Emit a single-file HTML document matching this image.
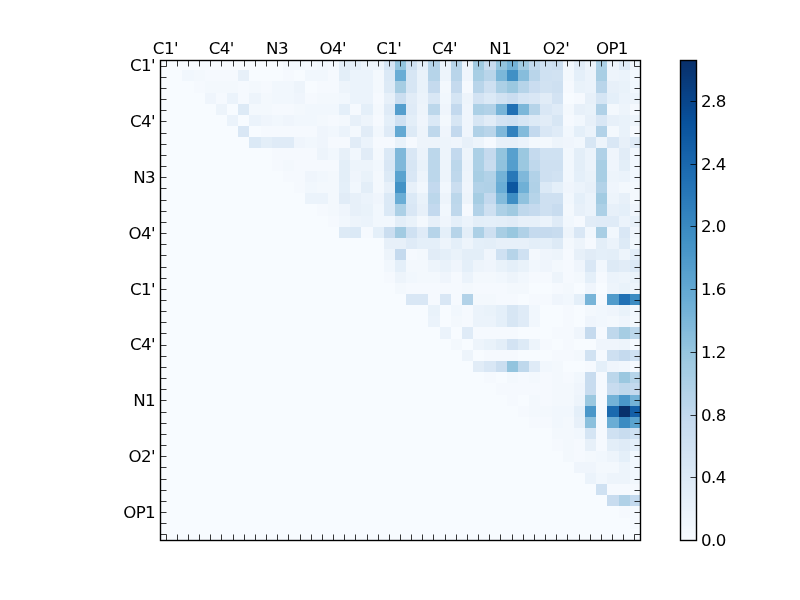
<!DOCTYPE html>
<html><head><meta charset="utf-8"><title>heatmap</title>
<style>
html,body{margin:0;padding:0;background:#fff;}
body{width:800px;height:600px;overflow:hidden;}
svg{display:block;}
text{font-family:"DejaVu Sans","Liberation Sans",sans-serif;font-size:16.67px;fill:#000;letter-spacing:-0.6px;}
</style></head><body>
<svg width="800" height="600" viewBox="0 0 800 600">
<rect width="800" height="600" fill="#fff"/>
<g shape-rendering="crispEdges">
<rect x="160" y="60" width="481" height="481" fill="#f7fbff"/>
<rect x="283" y="60" width="22" height="10" fill="#f3f8fd"/>
<rect x="305" y="60" width="12" height="10" fill="#f5f9fe"/>
<rect x="317" y="60" width="11" height="10" fill="#f3f8fd"/>
<rect x="328" y="60" width="11" height="10" fill="#f5f9fe"/>
<rect x="339" y="60" width="11" height="10" fill="#e3eef8"/>
<rect x="350" y="60" width="11" height="10" fill="#e4eff9"/>
<rect x="361" y="60" width="23" height="10" fill="#edf4fb"/>
<rect x="384" y="60" width="11" height="10" fill="#d5e5f4"/>
<rect x="395" y="60" width="11" height="10" fill="#93c4de"/>
<rect x="406" y="60" width="11" height="10" fill="#cfe1f2"/>
<rect x="417" y="60" width="11" height="10" fill="#e4eff9"/>
<rect x="428" y="60" width="12" height="10" fill="#b6d4e9"/>
<rect x="440" y="60" width="11" height="10" fill="#ebf3fb"/>
<rect x="451" y="60" width="11" height="10" fill="#b6d4e9"/>
<rect x="462" y="60" width="11" height="10" fill="#edf4fb"/>
<rect x="473" y="60" width="11" height="10" fill="#a0cae1"/>
<rect x="484" y="60" width="12" height="10" fill="#c8dcef"/>
<rect x="496" y="60" width="11" height="10" fill="#93c4de"/>
<rect x="507" y="60" width="11" height="10" fill="#73b2d7"/>
<rect x="518" y="60" width="11" height="10" fill="#a2cbe2"/>
<rect x="529" y="60" width="11" height="10" fill="#c3d9ee"/>
<rect x="540" y="60" width="12" height="10" fill="#cfe1f2"/>
<rect x="552" y="60" width="11" height="10" fill="#cbdef0"/>
<rect x="563" y="60" width="11" height="10" fill="#f1f7fd"/>
<rect x="574" y="60" width="11" height="10" fill="#e1ecf7"/>
<rect x="585" y="60" width="11" height="10" fill="#edf4fb"/>
<rect x="596" y="60" width="11" height="10" fill="#acd0e6"/>
<rect x="607" y="60" width="12" height="10" fill="#eff5fc"/>
<rect x="619" y="60" width="11" height="10" fill="#dfebf7"/>
<rect x="630" y="60" width="11" height="10" fill="#eff5fc"/>
<rect x="182" y="70" width="12" height="11" fill="#f1f7fd"/>
<rect x="194" y="70" width="11" height="11" fill="#f3f8fd"/>
<rect x="205" y="70" width="33" height="11" fill="#f5f9fe"/>
<rect x="238" y="70" width="11" height="11" fill="#e7f0f9"/>
<rect x="283" y="70" width="11" height="11" fill="#f5f9fe"/>
<rect x="305" y="70" width="23" height="11" fill="#f1f7fd"/>
<rect x="328" y="70" width="11" height="11" fill="#f5f9fe"/>
<rect x="339" y="70" width="11" height="11" fill="#e3eef8"/>
<rect x="350" y="70" width="23" height="11" fill="#ebf3fb"/>
<rect x="373" y="70" width="11" height="11" fill="#f3f8fd"/>
<rect x="384" y="70" width="11" height="11" fill="#dbe9f6"/>
<rect x="395" y="70" width="11" height="11" fill="#6aadd5"/>
<rect x="406" y="70" width="11" height="11" fill="#d7e6f4"/>
<rect x="417" y="70" width="11" height="11" fill="#e9f2fa"/>
<rect x="428" y="70" width="12" height="11" fill="#b6d4e9"/>
<rect x="440" y="70" width="11" height="11" fill="#edf4fb"/>
<rect x="451" y="70" width="11" height="11" fill="#b9d5ea"/>
<rect x="462" y="70" width="11" height="11" fill="#eff5fc"/>
<rect x="473" y="70" width="11" height="11" fill="#a8cee4"/>
<rect x="484" y="70" width="12" height="11" fill="#b9d5ea"/>
<rect x="496" y="70" width="11" height="11" fill="#7bb7d9"/>
<rect x="507" y="70" width="11" height="11" fill="#4090c5"/>
<rect x="518" y="70" width="11" height="11" fill="#87bddc"/>
<rect x="529" y="70" width="11" height="11" fill="#b9d5ea"/>
<rect x="540" y="70" width="12" height="11" fill="#cfe1f2"/>
<rect x="552" y="70" width="11" height="11" fill="#d1e2f2"/>
<rect x="563" y="70" width="11" height="11" fill="#f3f8fd"/>
<rect x="574" y="70" width="11" height="11" fill="#e4eff9"/>
<rect x="585" y="70" width="11" height="11" fill="#ebf3fb"/>
<rect x="596" y="70" width="11" height="11" fill="#a8cee4"/>
<rect x="607" y="70" width="12" height="11" fill="#edf4fb"/>
<rect x="619" y="70" width="11" height="11" fill="#ebf3fb"/>
<rect x="630" y="70" width="11" height="11" fill="#f3f8fd"/>
<rect x="194" y="81" width="11" height="12" fill="#f5f9fe"/>
<rect x="205" y="81" width="33" height="12" fill="#f3f8fd"/>
<rect x="238" y="81" width="11" height="12" fill="#f5f9fe"/>
<rect x="249" y="81" width="12" height="12" fill="#f3f8fd"/>
<rect x="261" y="81" width="11" height="12" fill="#f5f9fe"/>
<rect x="272" y="81" width="22" height="12" fill="#f1f7fd"/>
<rect x="294" y="81" width="11" height="12" fill="#edf4fb"/>
<rect x="317" y="81" width="22" height="12" fill="#f5f9fe"/>
<rect x="339" y="81" width="11" height="12" fill="#edf4fb"/>
<rect x="350" y="81" width="23" height="12" fill="#ebf3fb"/>
<rect x="373" y="81" width="11" height="12" fill="#f3f8fd"/>
<rect x="384" y="81" width="11" height="12" fill="#ddeaf6"/>
<rect x="395" y="81" width="11" height="12" fill="#a6cde3"/>
<rect x="406" y="81" width="11" height="12" fill="#d7e6f4"/>
<rect x="417" y="81" width="11" height="12" fill="#e9f2fa"/>
<rect x="428" y="81" width="12" height="12" fill="#c5daee"/>
<rect x="440" y="81" width="11" height="12" fill="#f3f8fd"/>
<rect x="451" y="81" width="11" height="12" fill="#c5daee"/>
<rect x="462" y="81" width="11" height="12" fill="#f5f9fe"/>
<rect x="473" y="81" width="11" height="12" fill="#b9d5ea"/>
<rect x="484" y="81" width="12" height="12" fill="#cee0f1"/>
<rect x="496" y="81" width="11" height="12" fill="#acd0e6"/>
<rect x="507" y="81" width="11" height="12" fill="#9bc8e0"/>
<rect x="518" y="81" width="11" height="12" fill="#b6d4e9"/>
<rect x="529" y="81" width="11" height="12" fill="#caddf0"/>
<rect x="540" y="81" width="12" height="12" fill="#d1e2f2"/>
<rect x="552" y="81" width="11" height="12" fill="#cee0f1"/>
<rect x="563" y="81" width="11" height="12" fill="#f5f9fe"/>
<rect x="574" y="81" width="11" height="12" fill="#e9f2fa"/>
<rect x="585" y="81" width="11" height="12" fill="#ebf3fb"/>
<rect x="596" y="81" width="11" height="12" fill="#b9d5ea"/>
<rect x="607" y="81" width="12" height="12" fill="#e7f0f9"/>
<rect x="619" y="81" width="11" height="12" fill="#e9f2fa"/>
<rect x="630" y="81" width="11" height="12" fill="#f1f7fd"/>
<rect x="205" y="93" width="11" height="11" fill="#eff5fc"/>
<rect x="216" y="93" width="11" height="11" fill="#f5f9fe"/>
<rect x="227" y="93" width="11" height="11" fill="#ebf3fb"/>
<rect x="238" y="93" width="11" height="11" fill="#f5f9fe"/>
<rect x="249" y="93" width="12" height="11" fill="#edf4fb"/>
<rect x="261" y="93" width="11" height="11" fill="#f3f8fd"/>
<rect x="272" y="93" width="22" height="11" fill="#f1f7fd"/>
<rect x="294" y="93" width="11" height="11" fill="#eff5fc"/>
<rect x="305" y="93" width="12" height="11" fill="#f5f9fe"/>
<rect x="317" y="93" width="22" height="11" fill="#f3f8fd"/>
<rect x="339" y="93" width="11" height="11" fill="#f1f7fd"/>
<rect x="350" y="93" width="23" height="11" fill="#ebf3fb"/>
<rect x="373" y="93" width="11" height="11" fill="#f5f9fe"/>
<rect x="384" y="93" width="11" height="11" fill="#e7f0f9"/>
<rect x="395" y="93" width="11" height="11" fill="#cbdef0"/>
<rect x="406" y="93" width="11" height="11" fill="#e1ecf7"/>
<rect x="417" y="93" width="11" height="11" fill="#ebf3fb"/>
<rect x="428" y="93" width="12" height="11" fill="#d9e7f5"/>
<rect x="440" y="93" width="11" height="11" fill="#f1f7fd"/>
<rect x="451" y="93" width="11" height="11" fill="#d5e5f4"/>
<rect x="462" y="93" width="11" height="11" fill="#edf4fb"/>
<rect x="473" y="93" width="11" height="11" fill="#d3e3f3"/>
<rect x="484" y="93" width="12" height="11" fill="#dbe9f6"/>
<rect x="496" y="93" width="11" height="11" fill="#d1e2f2"/>
<rect x="507" y="93" width="11" height="11" fill="#caddf0"/>
<rect x="518" y="93" width="11" height="11" fill="#d5e5f4"/>
<rect x="529" y="93" width="11" height="11" fill="#d9e7f5"/>
<rect x="540" y="93" width="12" height="11" fill="#e1ecf7"/>
<rect x="552" y="93" width="11" height="11" fill="#d3e3f3"/>
<rect x="574" y="93" width="11" height="11" fill="#f5f9fe"/>
<rect x="585" y="93" width="11" height="11" fill="#e7f0f9"/>
<rect x="596" y="93" width="11" height="11" fill="#d5e5f4"/>
<rect x="607" y="93" width="12" height="11" fill="#e4eff9"/>
<rect x="619" y="93" width="11" height="11" fill="#ebf3fb"/>
<rect x="630" y="93" width="11" height="11" fill="#edf4fb"/>
<rect x="216" y="104" width="11" height="11" fill="#edf4fb"/>
<rect x="238" y="104" width="11" height="11" fill="#ddeaf6"/>
<rect x="249" y="104" width="23" height="11" fill="#f3f8fd"/>
<rect x="272" y="104" width="22" height="11" fill="#f5f9fe"/>
<rect x="294" y="104" width="11" height="11" fill="#f3f8fd"/>
<rect x="305" y="104" width="34" height="11" fill="#f1f7fd"/>
<rect x="339" y="104" width="11" height="11" fill="#e4eff9"/>
<rect x="350" y="104" width="11" height="11" fill="#f5f9fe"/>
<rect x="361" y="104" width="12" height="11" fill="#e4eff9"/>
<rect x="373" y="104" width="11" height="11" fill="#f3f8fd"/>
<rect x="384" y="104" width="11" height="11" fill="#dfebf7"/>
<rect x="395" y="104" width="11" height="11" fill="#549ecd"/>
<rect x="406" y="104" width="11" height="11" fill="#dfebf7"/>
<rect x="417" y="104" width="11" height="11" fill="#edf4fb"/>
<rect x="428" y="104" width="12" height="11" fill="#bcd7eb"/>
<rect x="440" y="104" width="11" height="11" fill="#eff5fc"/>
<rect x="451" y="104" width="11" height="11" fill="#c3d9ee"/>
<rect x="462" y="104" width="11" height="11" fill="#eff5fc"/>
<rect x="473" y="104" width="11" height="11" fill="#acd0e6"/>
<rect x="484" y="104" width="12" height="11" fill="#b2d2e8"/>
<rect x="496" y="104" width="11" height="11" fill="#77b4d8"/>
<rect x="507" y="104" width="11" height="11" fill="#2070b4"/>
<rect x="518" y="104" width="11" height="11" fill="#7bb7d9"/>
<rect x="529" y="104" width="11" height="11" fill="#b6d4e9"/>
<rect x="540" y="104" width="12" height="11" fill="#d9e7f5"/>
<rect x="552" y="104" width="11" height="11" fill="#dfebf7"/>
<rect x="563" y="104" width="11" height="11" fill="#f3f8fd"/>
<rect x="574" y="104" width="11" height="11" fill="#e7f0f9"/>
<rect x="585" y="104" width="11" height="11" fill="#e9f2fa"/>
<rect x="596" y="104" width="11" height="11" fill="#b0d1e7"/>
<rect x="607" y="104" width="12" height="11" fill="#f3f8fd"/>
<rect x="619" y="104" width="11" height="11" fill="#edf4fb"/>
<rect x="630" y="104" width="11" height="11" fill="#f5f9fe"/>
<rect x="227" y="115" width="11" height="11" fill="#ebf3fb"/>
<rect x="249" y="115" width="12" height="11" fill="#ebf3fb"/>
<rect x="261" y="115" width="11" height="11" fill="#eff5fc"/>
<rect x="272" y="115" width="11" height="11" fill="#f1f7fd"/>
<rect x="283" y="115" width="11" height="11" fill="#eff5fc"/>
<rect x="294" y="115" width="23" height="11" fill="#f1f7fd"/>
<rect x="317" y="115" width="11" height="11" fill="#f3f8fd"/>
<rect x="328" y="115" width="11" height="11" fill="#f5f9fe"/>
<rect x="339" y="115" width="11" height="11" fill="#f3f8fd"/>
<rect x="350" y="115" width="11" height="11" fill="#e7f0f9"/>
<rect x="361" y="115" width="12" height="11" fill="#edf4fb"/>
<rect x="373" y="115" width="11" height="11" fill="#f5f9fe"/>
<rect x="384" y="115" width="11" height="11" fill="#e4eff9"/>
<rect x="395" y="115" width="11" height="11" fill="#cfe1f2"/>
<rect x="406" y="115" width="11" height="11" fill="#e3eef8"/>
<rect x="417" y="115" width="11" height="11" fill="#eff5fc"/>
<rect x="428" y="115" width="12" height="11" fill="#dbe9f6"/>
<rect x="440" y="115" width="11" height="11" fill="#f3f8fd"/>
<rect x="451" y="115" width="11" height="11" fill="#d7e6f4"/>
<rect x="462" y="115" width="11" height="11" fill="#eff5fc"/>
<rect x="473" y="115" width="11" height="11" fill="#d7e6f4"/>
<rect x="484" y="115" width="12" height="11" fill="#e1ecf7"/>
<rect x="496" y="115" width="11" height="11" fill="#d3e3f3"/>
<rect x="507" y="115" width="11" height="11" fill="#cfe1f2"/>
<rect x="518" y="115" width="11" height="11" fill="#d7e6f4"/>
<rect x="529" y="115" width="11" height="11" fill="#ddeaf6"/>
<rect x="540" y="115" width="12" height="11" fill="#e1ecf7"/>
<rect x="552" y="115" width="11" height="11" fill="#d7e6f4"/>
<rect x="563" y="115" width="11" height="11" fill="#f5f9fe"/>
<rect x="574" y="115" width="11" height="11" fill="#f1f7fd"/>
<rect x="585" y="115" width="11" height="11" fill="#e7f0f9"/>
<rect x="596" y="115" width="11" height="11" fill="#d9e7f5"/>
<rect x="607" y="115" width="12" height="11" fill="#e7f0f9"/>
<rect x="619" y="115" width="11" height="11" fill="#e9f2fa"/>
<rect x="630" y="115" width="11" height="11" fill="#edf4fb"/>
<rect x="238" y="126" width="11" height="11" fill="#d9e7f5"/>
<rect x="261" y="126" width="56" height="11" fill="#f5f9fe"/>
<rect x="317" y="126" width="11" height="11" fill="#eff5fc"/>
<rect x="328" y="126" width="11" height="11" fill="#f1f7fd"/>
<rect x="339" y="126" width="11" height="11" fill="#ebf3fb"/>
<rect x="350" y="126" width="11" height="11" fill="#f3f8fd"/>
<rect x="361" y="126" width="12" height="11" fill="#e1ecf7"/>
<rect x="373" y="126" width="11" height="11" fill="#f1f7fd"/>
<rect x="384" y="126" width="11" height="11" fill="#dfebf7"/>
<rect x="395" y="126" width="11" height="11" fill="#63a9d3"/>
<rect x="406" y="126" width="11" height="11" fill="#ddeaf6"/>
<rect x="417" y="126" width="11" height="11" fill="#edf4fb"/>
<rect x="428" y="126" width="12" height="11" fill="#bfd8ec"/>
<rect x="440" y="126" width="11" height="11" fill="#eff5fc"/>
<rect x="451" y="126" width="11" height="11" fill="#c3d9ee"/>
<rect x="462" y="126" width="11" height="11" fill="#eff5fc"/>
<rect x="473" y="126" width="11" height="11" fill="#b0d1e7"/>
<rect x="484" y="126" width="12" height="11" fill="#b9d5ea"/>
<rect x="496" y="126" width="11" height="11" fill="#7fb8da"/>
<rect x="507" y="126" width="11" height="11" fill="#3282be"/>
<rect x="518" y="126" width="11" height="11" fill="#83bbdb"/>
<rect x="529" y="126" width="11" height="11" fill="#c3d9ee"/>
<rect x="540" y="126" width="12" height="11" fill="#d9e7f5"/>
<rect x="552" y="126" width="11" height="11" fill="#dfebf7"/>
<rect x="563" y="126" width="11" height="11" fill="#f1f7fd"/>
<rect x="574" y="126" width="11" height="11" fill="#e4eff9"/>
<rect x="585" y="126" width="11" height="11" fill="#ebf3fb"/>
<rect x="596" y="126" width="11" height="11" fill="#b2d2e8"/>
<rect x="607" y="126" width="12" height="11" fill="#f3f8fd"/>
<rect x="619" y="126" width="11" height="11" fill="#e9f2fa"/>
<rect x="630" y="126" width="11" height="11" fill="#f5f9fe"/>
<rect x="249" y="137" width="12" height="11" fill="#dbe9f6"/>
<rect x="261" y="137" width="11" height="11" fill="#e3eef8"/>
<rect x="272" y="137" width="22" height="11" fill="#dfebf7"/>
<rect x="294" y="137" width="11" height="11" fill="#eff5fc"/>
<rect x="305" y="137" width="12" height="11" fill="#f1f7fd"/>
<rect x="317" y="137" width="11" height="11" fill="#eff5fc"/>
<rect x="328" y="137" width="22" height="11" fill="#f5f9fe"/>
<rect x="350" y="137" width="11" height="11" fill="#e1ecf7"/>
<rect x="361" y="137" width="12" height="11" fill="#ebf3fb"/>
<rect x="373" y="137" width="22" height="11" fill="#f5f9fe"/>
<rect x="395" y="137" width="11" height="11" fill="#e9f2fa"/>
<rect x="406" y="137" width="11" height="11" fill="#f5f9fe"/>
<rect x="417" y="137" width="34" height="11" fill="#edf4fb"/>
<rect x="451" y="137" width="11" height="11" fill="#eff5fc"/>
<rect x="462" y="137" width="11" height="11" fill="#e7f0f9"/>
<rect x="473" y="137" width="11" height="11" fill="#edf4fb"/>
<rect x="484" y="137" width="12" height="11" fill="#f5f9fe"/>
<rect x="496" y="137" width="22" height="11" fill="#e7f0f9"/>
<rect x="518" y="137" width="11" height="11" fill="#ebf3fb"/>
<rect x="529" y="137" width="23" height="11" fill="#f3f8fd"/>
<rect x="552" y="137" width="11" height="11" fill="#edf4fb"/>
<rect x="563" y="137" width="11" height="11" fill="#eff5fc"/>
<rect x="574" y="137" width="11" height="11" fill="#f1f7fd"/>
<rect x="585" y="137" width="11" height="11" fill="#d7e6f4"/>
<rect x="596" y="137" width="11" height="11" fill="#edf4fb"/>
<rect x="607" y="137" width="12" height="11" fill="#d9e7f5"/>
<rect x="619" y="137" width="11" height="11" fill="#e7f0f9"/>
<rect x="630" y="137" width="11" height="11" fill="#dfebf7"/>
<rect x="272" y="148" width="45" height="12" fill="#f5f9fe"/>
<rect x="317" y="148" width="11" height="12" fill="#edf4fb"/>
<rect x="328" y="148" width="11" height="12" fill="#f1f7fd"/>
<rect x="339" y="148" width="11" height="12" fill="#e7f0f9"/>
<rect x="350" y="148" width="11" height="12" fill="#f1f7fd"/>
<rect x="361" y="148" width="12" height="12" fill="#e1ecf7"/>
<rect x="373" y="148" width="11" height="12" fill="#f3f8fd"/>
<rect x="384" y="148" width="11" height="12" fill="#dbe9f6"/>
<rect x="395" y="148" width="11" height="12" fill="#7fb8da"/>
<rect x="406" y="148" width="11" height="12" fill="#d9e7f5"/>
<rect x="417" y="148" width="11" height="12" fill="#ebf3fb"/>
<rect x="428" y="148" width="12" height="12" fill="#bcd7eb"/>
<rect x="440" y="148" width="11" height="12" fill="#edf4fb"/>
<rect x="451" y="148" width="11" height="12" fill="#c3d9ee"/>
<rect x="462" y="148" width="11" height="12" fill="#edf4fb"/>
<rect x="473" y="148" width="11" height="12" fill="#acd0e6"/>
<rect x="484" y="148" width="12" height="12" fill="#c5daee"/>
<rect x="496" y="148" width="11" height="12" fill="#93c4de"/>
<rect x="507" y="148" width="11" height="12" fill="#57a0ce"/>
<rect x="518" y="148" width="11" height="12" fill="#9bc8e0"/>
<rect x="529" y="148" width="11" height="12" fill="#c5daee"/>
<rect x="540" y="148" width="23" height="12" fill="#cfe1f2"/>
<rect x="563" y="148" width="11" height="12" fill="#f1f7fd"/>
<rect x="574" y="148" width="11" height="12" fill="#e3eef8"/>
<rect x="585" y="148" width="11" height="12" fill="#ebf3fb"/>
<rect x="596" y="148" width="11" height="12" fill="#b0d1e7"/>
<rect x="607" y="148" width="12" height="12" fill="#eff5fc"/>
<rect x="619" y="148" width="11" height="12" fill="#e1ecf7"/>
<rect x="630" y="148" width="11" height="12" fill="#f1f7fd"/>
<rect x="272" y="160" width="11" height="11" fill="#f5f9fe"/>
<rect x="283" y="160" width="11" height="11" fill="#f3f8fd"/>
<rect x="294" y="160" width="45" height="11" fill="#f5f9fe"/>
<rect x="339" y="160" width="11" height="11" fill="#e3eef8"/>
<rect x="350" y="160" width="23" height="11" fill="#edf4fb"/>
<rect x="373" y="160" width="11" height="11" fill="#f1f7fd"/>
<rect x="384" y="160" width="11" height="11" fill="#d9e7f5"/>
<rect x="395" y="160" width="11" height="11" fill="#7fb8da"/>
<rect x="406" y="160" width="11" height="11" fill="#d7e6f4"/>
<rect x="417" y="160" width="11" height="11" fill="#e9f2fa"/>
<rect x="428" y="160" width="12" height="11" fill="#bcd7eb"/>
<rect x="440" y="160" width="11" height="11" fill="#edf4fb"/>
<rect x="451" y="160" width="11" height="11" fill="#bcd7eb"/>
<rect x="462" y="160" width="11" height="11" fill="#ebf3fb"/>
<rect x="473" y="160" width="11" height="11" fill="#acd0e6"/>
<rect x="484" y="160" width="12" height="11" fill="#c8dcef"/>
<rect x="496" y="160" width="11" height="11" fill="#90c2de"/>
<rect x="507" y="160" width="11" height="11" fill="#549ecd"/>
<rect x="518" y="160" width="11" height="11" fill="#9bc8e0"/>
<rect x="529" y="160" width="11" height="11" fill="#bfd8ec"/>
<rect x="540" y="160" width="23" height="11" fill="#cee0f1"/>
<rect x="563" y="160" width="11" height="11" fill="#f1f7fd"/>
<rect x="574" y="160" width="11" height="11" fill="#e3eef8"/>
<rect x="585" y="160" width="11" height="11" fill="#ebf3fb"/>
<rect x="596" y="160" width="11" height="11" fill="#a8cee4"/>
<rect x="607" y="160" width="12" height="11" fill="#eff5fc"/>
<rect x="619" y="160" width="11" height="11" fill="#e3eef8"/>
<rect x="630" y="160" width="11" height="11" fill="#f1f7fd"/>
<rect x="283" y="171" width="22" height="11" fill="#f5f9fe"/>
<rect x="305" y="171" width="12" height="11" fill="#eff5fc"/>
<rect x="317" y="171" width="11" height="11" fill="#f1f7fd"/>
<rect x="328" y="171" width="11" height="11" fill="#f3f8fd"/>
<rect x="339" y="171" width="11" height="11" fill="#e3eef8"/>
<rect x="350" y="171" width="11" height="11" fill="#eff5fc"/>
<rect x="361" y="171" width="12" height="11" fill="#e9f2fa"/>
<rect x="373" y="171" width="11" height="11" fill="#f3f8fd"/>
<rect x="384" y="171" width="11" height="11" fill="#ddeaf6"/>
<rect x="395" y="171" width="11" height="11" fill="#5aa3cf"/>
<rect x="406" y="171" width="11" height="11" fill="#d9e7f5"/>
<rect x="417" y="171" width="11" height="11" fill="#edf4fb"/>
<rect x="428" y="171" width="12" height="11" fill="#bcd7eb"/>
<rect x="440" y="171" width="11" height="11" fill="#edf4fb"/>
<rect x="451" y="171" width="11" height="11" fill="#bfd8ec"/>
<rect x="462" y="171" width="11" height="11" fill="#edf4fb"/>
<rect x="473" y="171" width="11" height="11" fill="#a8cee4"/>
<rect x="484" y="171" width="12" height="11" fill="#b2d2e8"/>
<rect x="496" y="171" width="11" height="11" fill="#73b2d7"/>
<rect x="507" y="171" width="11" height="11" fill="#2878b8"/>
<rect x="518" y="171" width="11" height="11" fill="#7fb8da"/>
<rect x="529" y="171" width="11" height="11" fill="#b2d2e8"/>
<rect x="540" y="171" width="12" height="11" fill="#cee0f1"/>
<rect x="552" y="171" width="11" height="11" fill="#d1e2f2"/>
<rect x="563" y="171" width="11" height="11" fill="#f1f7fd"/>
<rect x="574" y="171" width="11" height="11" fill="#e4eff9"/>
<rect x="585" y="171" width="11" height="11" fill="#e9f2fa"/>
<rect x="596" y="171" width="11" height="11" fill="#a8cee4"/>
<rect x="607" y="171" width="12" height="11" fill="#edf4fb"/>
<rect x="619" y="171" width="11" height="11" fill="#ebf3fb"/>
<rect x="630" y="171" width="11" height="11" fill="#f1f7fd"/>
<rect x="294" y="182" width="11" height="11" fill="#f5f9fe"/>
<rect x="305" y="182" width="12" height="11" fill="#f1f7fd"/>
<rect x="317" y="182" width="22" height="11" fill="#f3f8fd"/>
<rect x="339" y="182" width="11" height="11" fill="#e4eff9"/>
<rect x="350" y="182" width="11" height="11" fill="#f1f7fd"/>
<rect x="361" y="182" width="12" height="11" fill="#e3eef8"/>
<rect x="373" y="182" width="11" height="11" fill="#f3f8fd"/>
<rect x="384" y="182" width="11" height="11" fill="#e7f0f9"/>
<rect x="395" y="182" width="11" height="11" fill="#4393c6"/>
<rect x="406" y="182" width="11" height="11" fill="#e7f0f9"/>
<rect x="417" y="182" width="11" height="11" fill="#f1f7fd"/>
<rect x="428" y="182" width="12" height="11" fill="#c3d9ee"/>
<rect x="440" y="182" width="11" height="11" fill="#f1f7fd"/>
<rect x="451" y="182" width="11" height="11" fill="#cbdef0"/>
<rect x="462" y="182" width="11" height="11" fill="#eff5fc"/>
<rect x="473" y="182" width="11" height="11" fill="#b2d2e8"/>
<rect x="484" y="182" width="12" height="11" fill="#b0d1e7"/>
<rect x="496" y="182" width="11" height="11" fill="#6aadd5"/>
<rect x="507" y="182" width="11" height="11" fill="#0c57a0"/>
<rect x="518" y="182" width="11" height="11" fill="#6fb0d6"/>
<rect x="529" y="182" width="11" height="11" fill="#b0d1e7"/>
<rect x="540" y="182" width="12" height="11" fill="#dbe9f6"/>
<rect x="552" y="182" width="11" height="11" fill="#e4eff9"/>
<rect x="563" y="182" width="11" height="11" fill="#eff5fc"/>
<rect x="574" y="182" width="11" height="11" fill="#ebf3fb"/>
<rect x="585" y="182" width="11" height="11" fill="#e7f0f9"/>
<rect x="596" y="182" width="11" height="11" fill="#b2d2e8"/>
<rect x="607" y="182" width="12" height="11" fill="#eff5fc"/>
<rect x="619" y="182" width="22" height="11" fill="#f3f8fd"/>
<rect x="305" y="193" width="23" height="11" fill="#ebf3fb"/>
<rect x="328" y="193" width="11" height="11" fill="#f3f8fd"/>
<rect x="339" y="193" width="11" height="11" fill="#e1ecf7"/>
<rect x="350" y="193" width="11" height="11" fill="#e7f0f9"/>
<rect x="361" y="193" width="12" height="11" fill="#ebf3fb"/>
<rect x="373" y="193" width="11" height="11" fill="#eff5fc"/>
<rect x="384" y="193" width="11" height="11" fill="#dbe9f6"/>
<rect x="395" y="193" width="11" height="11" fill="#6aadd5"/>
<rect x="406" y="193" width="11" height="11" fill="#dbe9f6"/>
<rect x="417" y="193" width="11" height="11" fill="#e9f2fa"/>
<rect x="428" y="193" width="12" height="11" fill="#bcd7eb"/>
<rect x="440" y="193" width="11" height="11" fill="#edf4fb"/>
<rect x="451" y="193" width="11" height="11" fill="#bcd7eb"/>
<rect x="462" y="193" width="11" height="11" fill="#edf4fb"/>
<rect x="473" y="193" width="11" height="11" fill="#a6cde3"/>
<rect x="484" y="193" width="12" height="11" fill="#c3d9ee"/>
<rect x="496" y="193" width="11" height="11" fill="#83bbdb"/>
<rect x="507" y="193" width="11" height="11" fill="#3e8ec4"/>
<rect x="518" y="193" width="11" height="11" fill="#90c2de"/>
<rect x="529" y="193" width="11" height="11" fill="#b6d4e9"/>
<rect x="540" y="193" width="23" height="11" fill="#cee0f1"/>
<rect x="563" y="193" width="11" height="11" fill="#f1f7fd"/>
<rect x="574" y="193" width="11" height="11" fill="#e4eff9"/>
<rect x="585" y="193" width="11" height="11" fill="#ebf3fb"/>
<rect x="596" y="193" width="11" height="11" fill="#a2cbe2"/>
<rect x="607" y="193" width="12" height="11" fill="#edf4fb"/>
<rect x="619" y="193" width="11" height="11" fill="#e7f0f9"/>
<rect x="630" y="193" width="11" height="11" fill="#f3f8fd"/>
<rect x="317" y="204" width="11" height="12" fill="#f5f9fe"/>
<rect x="328" y="204" width="11" height="12" fill="#f3f8fd"/>
<rect x="339" y="204" width="11" height="12" fill="#eff5fc"/>
<rect x="350" y="204" width="11" height="12" fill="#e7f0f9"/>
<rect x="361" y="204" width="12" height="12" fill="#e9f2fa"/>
<rect x="373" y="204" width="11" height="12" fill="#f1f7fd"/>
<rect x="384" y="204" width="11" height="12" fill="#dbe9f6"/>
<rect x="395" y="204" width="11" height="12" fill="#acd0e6"/>
<rect x="406" y="204" width="11" height="12" fill="#d9e7f5"/>
<rect x="417" y="204" width="11" height="12" fill="#e7f0f9"/>
<rect x="428" y="204" width="12" height="12" fill="#c3d9ee"/>
<rect x="440" y="204" width="11" height="12" fill="#f1f7fd"/>
<rect x="451" y="204" width="11" height="12" fill="#bfd8ec"/>
<rect x="462" y="204" width="11" height="12" fill="#f5f9fe"/>
<rect x="473" y="204" width="11" height="12" fill="#b2d2e8"/>
<rect x="484" y="204" width="12" height="12" fill="#cee0f1"/>
<rect x="496" y="204" width="11" height="12" fill="#acd0e6"/>
<rect x="507" y="204" width="11" height="12" fill="#a0cae1"/>
<rect x="518" y="204" width="11" height="12" fill="#bfd8ec"/>
<rect x="529" y="204" width="11" height="12" fill="#c5daee"/>
<rect x="540" y="204" width="12" height="12" fill="#cee0f1"/>
<rect x="552" y="204" width="11" height="12" fill="#c8dcef"/>
<rect x="563" y="204" width="11" height="12" fill="#f3f8fd"/>
<rect x="574" y="204" width="11" height="12" fill="#e7f0f9"/>
<rect x="585" y="204" width="11" height="12" fill="#ebf3fb"/>
<rect x="596" y="204" width="11" height="12" fill="#acd0e6"/>
<rect x="607" y="204" width="12" height="12" fill="#e7f0f9"/>
<rect x="619" y="204" width="11" height="12" fill="#e4eff9"/>
<rect x="630" y="204" width="11" height="12" fill="#eff5fc"/>
<rect x="328" y="216" width="11" height="11" fill="#f5f9fe"/>
<rect x="339" y="216" width="11" height="11" fill="#f1f7fd"/>
<rect x="350" y="216" width="11" height="11" fill="#edf4fb"/>
<rect x="361" y="216" width="12" height="11" fill="#ebf3fb"/>
<rect x="373" y="216" width="22" height="11" fill="#f1f7fd"/>
<rect x="395" y="216" width="11" height="11" fill="#e3eef8"/>
<rect x="406" y="216" width="11" height="11" fill="#e9f2fa"/>
<rect x="417" y="216" width="11" height="11" fill="#f3f8fd"/>
<rect x="428" y="216" width="12" height="11" fill="#e7f0f9"/>
<rect x="440" y="216" width="11" height="11" fill="#eff5fc"/>
<rect x="451" y="216" width="11" height="11" fill="#e4eff9"/>
<rect x="462" y="216" width="11" height="11" fill="#ebf3fb"/>
<rect x="473" y="216" width="11" height="11" fill="#e3eef8"/>
<rect x="484" y="216" width="12" height="11" fill="#e4eff9"/>
<rect x="496" y="216" width="11" height="11" fill="#e3eef8"/>
<rect x="507" y="216" width="11" height="11" fill="#e1ecf7"/>
<rect x="518" y="216" width="22" height="11" fill="#e7f0f9"/>
<rect x="540" y="216" width="12" height="11" fill="#ebf3fb"/>
<rect x="552" y="216" width="11" height="11" fill="#dfebf7"/>
<rect x="563" y="216" width="11" height="11" fill="#f1f7fd"/>
<rect x="574" y="216" width="11" height="11" fill="#f5f9fe"/>
<rect x="585" y="216" width="11" height="11" fill="#e1ecf7"/>
<rect x="596" y="216" width="23" height="11" fill="#dfebf7"/>
<rect x="619" y="216" width="11" height="11" fill="#ebf3fb"/>
<rect x="630" y="216" width="11" height="11" fill="#e7f0f9"/>
<rect x="339" y="227" width="11" height="11" fill="#ddeaf6"/>
<rect x="350" y="227" width="11" height="11" fill="#dbe9f6"/>
<rect x="361" y="227" width="12" height="11" fill="#f5f9fe"/>
<rect x="373" y="227" width="11" height="11" fill="#e4eff9"/>
<rect x="384" y="227" width="11" height="11" fill="#cbdef0"/>
<rect x="395" y="227" width="11" height="11" fill="#a2cbe2"/>
<rect x="406" y="227" width="11" height="11" fill="#cfe1f2"/>
<rect x="417" y="227" width="11" height="11" fill="#dfebf7"/>
<rect x="428" y="227" width="12" height="11" fill="#b6d4e9"/>
<rect x="440" y="227" width="11" height="11" fill="#e4eff9"/>
<rect x="451" y="227" width="11" height="11" fill="#b6d4e9"/>
<rect x="462" y="227" width="11" height="11" fill="#e3eef8"/>
<rect x="473" y="227" width="11" height="11" fill="#acd0e6"/>
<rect x="484" y="227" width="12" height="11" fill="#cee0f1"/>
<rect x="496" y="227" width="11" height="11" fill="#a8cee4"/>
<rect x="507" y="227" width="11" height="11" fill="#98c7df"/>
<rect x="518" y="227" width="11" height="11" fill="#b0d1e7"/>
<rect x="529" y="227" width="23" height="11" fill="#c5daee"/>
<rect x="552" y="227" width="11" height="11" fill="#c8dcef"/>
<rect x="563" y="227" width="11" height="11" fill="#edf4fb"/>
<rect x="574" y="227" width="11" height="11" fill="#d9e7f5"/>
<rect x="585" y="227" width="11" height="11" fill="#f1f7fd"/>
<rect x="596" y="227" width="11" height="11" fill="#a8cee4"/>
<rect x="607" y="227" width="12" height="11" fill="#f1f7fd"/>
<rect x="619" y="227" width="11" height="11" fill="#d9e7f5"/>
<rect x="630" y="227" width="11" height="11" fill="#eff5fc"/>
<rect x="384" y="238" width="22" height="11" fill="#e7f0f9"/>
<rect x="406" y="238" width="11" height="11" fill="#dfebf7"/>
<rect x="417" y="238" width="23" height="11" fill="#e4eff9"/>
<rect x="440" y="238" width="11" height="11" fill="#edf4fb"/>
<rect x="451" y="238" width="11" height="11" fill="#e4eff9"/>
<rect x="462" y="238" width="11" height="11" fill="#edf4fb"/>
<rect x="473" y="238" width="11" height="11" fill="#e4eff9"/>
<rect x="484" y="238" width="12" height="11" fill="#e3eef8"/>
<rect x="496" y="238" width="33" height="11" fill="#e7f0f9"/>
<rect x="529" y="238" width="11" height="11" fill="#e3eef8"/>
<rect x="540" y="238" width="12" height="11" fill="#e4eff9"/>
<rect x="552" y="238" width="11" height="11" fill="#ddeaf6"/>
<rect x="563" y="238" width="11" height="11" fill="#f3f8fd"/>
<rect x="574" y="238" width="11" height="11" fill="#edf4fb"/>
<rect x="585" y="238" width="11" height="11" fill="#f5f9fe"/>
<rect x="596" y="238" width="11" height="11" fill="#e3eef8"/>
<rect x="607" y="238" width="12" height="11" fill="#ebf3fb"/>
<rect x="619" y="238" width="11" height="11" fill="#ddeaf6"/>
<rect x="630" y="238" width="11" height="11" fill="#f1f7fd"/>
<rect x="384" y="249" width="11" height="11" fill="#edf4fb"/>
<rect x="395" y="249" width="11" height="11" fill="#c5daee"/>
<rect x="406" y="249" width="11" height="11" fill="#f5f9fe"/>
<rect x="417" y="249" width="11" height="11" fill="#f3f8fd"/>
<rect x="428" y="249" width="12" height="11" fill="#e1ecf7"/>
<rect x="440" y="249" width="11" height="11" fill="#e4eff9"/>
<rect x="451" y="249" width="11" height="11" fill="#e9f2fa"/>
<rect x="462" y="249" width="22" height="11" fill="#e3eef8"/>
<rect x="484" y="249" width="12" height="11" fill="#eff5fc"/>
<rect x="496" y="249" width="11" height="11" fill="#cfe1f2"/>
<rect x="507" y="249" width="11" height="11" fill="#b6d4e9"/>
<rect x="518" y="249" width="11" height="11" fill="#cfe1f2"/>
<rect x="529" y="249" width="11" height="11" fill="#f3f8fd"/>
<rect x="540" y="249" width="12" height="11" fill="#eff5fc"/>
<rect x="552" y="249" width="11" height="11" fill="#edf4fb"/>
<rect x="563" y="249" width="11" height="11" fill="#f5f9fe"/>
<rect x="574" y="249" width="11" height="11" fill="#e7f0f9"/>
<rect x="585" y="249" width="11" height="11" fill="#e1ecf7"/>
<rect x="596" y="249" width="11" height="11" fill="#e4eff9"/>
<rect x="607" y="249" width="12" height="11" fill="#e3eef8"/>
<rect x="619" y="249" width="11" height="11" fill="#edf4fb"/>
<rect x="630" y="249" width="11" height="11" fill="#e3eef8"/>
<rect x="384" y="260" width="11" height="12" fill="#f1f7fd"/>
<rect x="395" y="260" width="11" height="12" fill="#e4eff9"/>
<rect x="406" y="260" width="22" height="12" fill="#f3f8fd"/>
<rect x="428" y="260" width="12" height="12" fill="#edf4fb"/>
<rect x="440" y="260" width="11" height="12" fill="#e9f2fa"/>
<rect x="451" y="260" width="11" height="12" fill="#eff5fc"/>
<rect x="462" y="260" width="11" height="12" fill="#e4eff9"/>
<rect x="473" y="260" width="11" height="12" fill="#edf4fb"/>
<rect x="484" y="260" width="12" height="12" fill="#eff5fc"/>
<rect x="496" y="260" width="11" height="12" fill="#e9f2fa"/>
<rect x="507" y="260" width="11" height="12" fill="#e4eff9"/>
<rect x="518" y="260" width="11" height="12" fill="#e9f2fa"/>
<rect x="529" y="260" width="11" height="12" fill="#f1f7fd"/>
<rect x="540" y="260" width="12" height="12" fill="#eff5fc"/>
<rect x="552" y="260" width="11" height="12" fill="#f3f8fd"/>
<rect x="563" y="260" width="11" height="12" fill="#f5f9fe"/>
<rect x="574" y="260" width="11" height="12" fill="#eff5fc"/>
<rect x="585" y="260" width="11" height="12" fill="#d9e7f5"/>
<rect x="596" y="260" width="11" height="12" fill="#f1f7fd"/>
<rect x="607" y="260" width="12" height="12" fill="#ddeaf6"/>
<rect x="619" y="260" width="11" height="12" fill="#e1ecf7"/>
<rect x="630" y="260" width="11" height="12" fill="#dbe9f6"/>
<rect x="384" y="272" width="11" height="11" fill="#f5f9fe"/>
<rect x="395" y="272" width="11" height="11" fill="#edf4fb"/>
<rect x="406" y="272" width="11" height="11" fill="#f1f7fd"/>
<rect x="417" y="272" width="23" height="11" fill="#f3f8fd"/>
<rect x="440" y="272" width="11" height="11" fill="#eff5fc"/>
<rect x="451" y="272" width="11" height="11" fill="#f5f9fe"/>
<rect x="462" y="272" width="11" height="11" fill="#ebf3fb"/>
<rect x="473" y="272" width="23" height="11" fill="#f3f8fd"/>
<rect x="496" y="272" width="11" height="11" fill="#f1f7fd"/>
<rect x="507" y="272" width="11" height="11" fill="#edf4fb"/>
<rect x="518" y="272" width="11" height="11" fill="#f1f7fd"/>
<rect x="529" y="272" width="23" height="11" fill="#f5f9fe"/>
<rect x="552" y="272" width="11" height="11" fill="#edf4fb"/>
<rect x="563" y="272" width="11" height="11" fill="#f5f9fe"/>
<rect x="574" y="272" width="11" height="11" fill="#f3f8fd"/>
<rect x="585" y="272" width="11" height="11" fill="#e4eff9"/>
<rect x="596" y="272" width="11" height="11" fill="#f5f9fe"/>
<rect x="607" y="272" width="12" height="11" fill="#ebf3fb"/>
<rect x="619" y="272" width="11" height="11" fill="#edf4fb"/>
<rect x="630" y="272" width="11" height="11" fill="#e9f2fa"/>
<rect x="395" y="283" width="11" height="11" fill="#f3f8fd"/>
<rect x="406" y="283" width="56" height="11" fill="#f5f9fe"/>
<rect x="462" y="283" width="11" height="11" fill="#f3f8fd"/>
<rect x="473" y="283" width="34" height="11" fill="#f5f9fe"/>
<rect x="507" y="283" width="22" height="11" fill="#f3f8fd"/>
<rect x="552" y="283" width="11" height="11" fill="#f5f9fe"/>
<rect x="563" y="283" width="11" height="11" fill="#f3f8fd"/>
<rect x="585" y="283" width="11" height="11" fill="#eff5fc"/>
<rect x="607" y="283" width="12" height="11" fill="#edf4fb"/>
<rect x="619" y="283" width="11" height="11" fill="#e9f2fa"/>
<rect x="630" y="283" width="11" height="11" fill="#edf4fb"/>
<rect x="406" y="294" width="22" height="11" fill="#d9e7f5"/>
<rect x="428" y="294" width="12" height="11" fill="#f5f9fe"/>
<rect x="440" y="294" width="11" height="11" fill="#d9e7f5"/>
<rect x="451" y="294" width="11" height="11" fill="#f5f9fe"/>
<rect x="462" y="294" width="11" height="11" fill="#b2d2e8"/>
<rect x="473" y="294" width="23" height="11" fill="#f3f8fd"/>
<rect x="496" y="294" width="22" height="11" fill="#f5f9fe"/>
<rect x="529" y="294" width="23" height="11" fill="#f5f9fe"/>
<rect x="552" y="294" width="11" height="11" fill="#eff5fc"/>
<rect x="563" y="294" width="11" height="11" fill="#f1f7fd"/>
<rect x="574" y="294" width="11" height="11" fill="#e4eff9"/>
<rect x="585" y="294" width="11" height="11" fill="#77b4d8"/>
<rect x="596" y="294" width="11" height="11" fill="#f5f9fe"/>
<rect x="607" y="294" width="12" height="11" fill="#509bcb"/>
<rect x="619" y="294" width="11" height="11" fill="#2070b4"/>
<rect x="630" y="294" width="11" height="11" fill="#3b8bc2"/>
<rect x="428" y="305" width="12" height="11" fill="#e9f2fa"/>
<rect x="451" y="305" width="11" height="11" fill="#f1f7fd"/>
<rect x="462" y="305" width="11" height="11" fill="#f5f9fe"/>
<rect x="473" y="305" width="11" height="11" fill="#ebf3fb"/>
<rect x="484" y="305" width="12" height="11" fill="#e9f2fa"/>
<rect x="496" y="305" width="11" height="11" fill="#e4eff9"/>
<rect x="507" y="305" width="11" height="11" fill="#d7e6f4"/>
<rect x="518" y="305" width="11" height="11" fill="#dfebf7"/>
<rect x="529" y="305" width="11" height="11" fill="#f1f7fd"/>
<rect x="563" y="305" width="11" height="11" fill="#f5f9fe"/>
<rect x="585" y="305" width="11" height="11" fill="#f3f8fd"/>
<rect x="596" y="305" width="11" height="11" fill="#f1f7fd"/>
<rect x="607" y="305" width="12" height="11" fill="#eff5fc"/>
<rect x="619" y="305" width="11" height="11" fill="#e9f2fa"/>
<rect x="630" y="305" width="11" height="11" fill="#f1f7fd"/>
<rect x="428" y="316" width="12" height="11" fill="#ebf3fb"/>
<rect x="451" y="316" width="11" height="11" fill="#f3f8fd"/>
<rect x="462" y="316" width="11" height="11" fill="#f5f9fe"/>
<rect x="473" y="316" width="23" height="11" fill="#ebf3fb"/>
<rect x="496" y="316" width="11" height="11" fill="#e4eff9"/>
<rect x="507" y="316" width="11" height="11" fill="#d7e6f4"/>
<rect x="518" y="316" width="11" height="11" fill="#dfebf7"/>
<rect x="529" y="316" width="11" height="11" fill="#f1f7fd"/>
<rect x="563" y="316" width="11" height="11" fill="#f5f9fe"/>
<rect x="585" y="316" width="11" height="11" fill="#eff5fc"/>
<rect x="596" y="316" width="11" height="11" fill="#f1f7fd"/>
<rect x="607" y="316" width="12" height="11" fill="#f3f8fd"/>
<rect x="619" y="316" width="11" height="11" fill="#eff5fc"/>
<rect x="630" y="316" width="11" height="11" fill="#f3f8fd"/>
<rect x="440" y="327" width="11" height="12" fill="#ebf3fb"/>
<rect x="462" y="327" width="11" height="12" fill="#dfebf7"/>
<rect x="473" y="327" width="45" height="12" fill="#f5f9fe"/>
<rect x="552" y="327" width="22" height="12" fill="#f5f9fe"/>
<rect x="574" y="327" width="11" height="12" fill="#eff5fc"/>
<rect x="585" y="327" width="11" height="12" fill="#c5daee"/>
<rect x="596" y="327" width="11" height="12" fill="#f5f9fe"/>
<rect x="607" y="327" width="12" height="12" fill="#bfd8ec"/>
<rect x="619" y="327" width="11" height="12" fill="#a6cde3"/>
<rect x="630" y="327" width="11" height="12" fill="#bcd7eb"/>
<rect x="451" y="339" width="11" height="11" fill="#f3f8fd"/>
<rect x="473" y="339" width="11" height="11" fill="#edf4fb"/>
<rect x="484" y="339" width="12" height="11" fill="#e9f2fa"/>
<rect x="496" y="339" width="11" height="11" fill="#e3eef8"/>
<rect x="507" y="339" width="11" height="11" fill="#d3e3f3"/>
<rect x="518" y="339" width="11" height="11" fill="#ddeaf6"/>
<rect x="529" y="339" width="11" height="11" fill="#edf4fb"/>
<rect x="540" y="339" width="12" height="11" fill="#f5f9fe"/>
<rect x="563" y="339" width="11" height="11" fill="#f5f9fe"/>
<rect x="596" y="339" width="23" height="11" fill="#eff5fc"/>
<rect x="619" y="339" width="11" height="11" fill="#edf4fb"/>
<rect x="630" y="339" width="11" height="11" fill="#f5f9fe"/>
<rect x="462" y="350" width="11" height="11" fill="#edf4fb"/>
<rect x="484" y="350" width="34" height="11" fill="#f5f9fe"/>
<rect x="552" y="350" width="22" height="11" fill="#f5f9fe"/>
<rect x="574" y="350" width="11" height="11" fill="#f3f8fd"/>
<rect x="585" y="350" width="11" height="11" fill="#d1e2f2"/>
<rect x="596" y="350" width="11" height="11" fill="#f5f9fe"/>
<rect x="607" y="350" width="12" height="11" fill="#cee0f1"/>
<rect x="619" y="350" width="11" height="11" fill="#c5daee"/>
<rect x="630" y="350" width="11" height="11" fill="#cfe1f2"/>
<rect x="473" y="361" width="11" height="11" fill="#e1ecf7"/>
<rect x="484" y="361" width="12" height="11" fill="#d9e7f5"/>
<rect x="496" y="361" width="11" height="11" fill="#cbdef0"/>
<rect x="507" y="361" width="11" height="11" fill="#93c4de"/>
<rect x="518" y="361" width="11" height="11" fill="#bfd8ec"/>
<rect x="529" y="361" width="11" height="11" fill="#dfebf7"/>
<rect x="540" y="361" width="12" height="11" fill="#f1f7fd"/>
<rect x="552" y="361" width="11" height="11" fill="#f3f8fd"/>
<rect x="585" y="361" width="11" height="11" fill="#f5f9fe"/>
<rect x="596" y="361" width="11" height="11" fill="#e4eff9"/>
<rect x="607" y="361" width="12" height="11" fill="#eff5fc"/>
<rect x="619" y="361" width="11" height="11" fill="#f1f7fd"/>
<rect x="630" y="361" width="11" height="11" fill="#f5f9fe"/>
<rect x="484" y="372" width="12" height="11" fill="#f5f9fe"/>
<rect x="507" y="372" width="11" height="11" fill="#f3f8fd"/>
<rect x="518" y="372" width="11" height="11" fill="#f5f9fe"/>
<rect x="529" y="372" width="11" height="11" fill="#f3f8fd"/>
<rect x="540" y="372" width="12" height="11" fill="#f5f9fe"/>
<rect x="552" y="372" width="11" height="11" fill="#f3f8fd"/>
<rect x="563" y="372" width="11" height="11" fill="#f5f9fe"/>
<rect x="574" y="372" width="11" height="11" fill="#f1f7fd"/>
<rect x="585" y="372" width="11" height="11" fill="#c8dcef"/>
<rect x="596" y="372" width="11" height="11" fill="#f5f9fe"/>
<rect x="607" y="372" width="12" height="11" fill="#bcd7eb"/>
<rect x="619" y="372" width="11" height="11" fill="#9bc8e0"/>
<rect x="630" y="372" width="11" height="11" fill="#b6d4e9"/>
<rect x="496" y="383" width="56" height="12" fill="#f5f9fe"/>
<rect x="552" y="383" width="22" height="12" fill="#f3f8fd"/>
<rect x="574" y="383" width="11" height="12" fill="#eff5fc"/>
<rect x="585" y="383" width="11" height="12" fill="#c8dcef"/>
<rect x="596" y="383" width="11" height="12" fill="#f5f9fe"/>
<rect x="607" y="383" width="12" height="12" fill="#c8dcef"/>
<rect x="619" y="383" width="11" height="12" fill="#bfd8ec"/>
<rect x="630" y="383" width="11" height="12" fill="#c3d9ee"/>
<rect x="507" y="395" width="11" height="11" fill="#f5f9fe"/>
<rect x="529" y="395" width="11" height="11" fill="#f3f8fd"/>
<rect x="540" y="395" width="12" height="11" fill="#f5f9fe"/>
<rect x="552" y="395" width="22" height="11" fill="#f3f8fd"/>
<rect x="574" y="395" width="11" height="11" fill="#edf4fb"/>
<rect x="585" y="395" width="11" height="11" fill="#9bc8e0"/>
<rect x="596" y="395" width="11" height="11" fill="#f5f9fe"/>
<rect x="607" y="395" width="12" height="11" fill="#73b2d7"/>
<rect x="619" y="395" width="11" height="11" fill="#4a97c9"/>
<rect x="630" y="395" width="11" height="11" fill="#73b2d7"/>
<rect x="518" y="406" width="11" height="11" fill="#f5f9fe"/>
<rect x="529" y="406" width="23" height="11" fill="#f3f8fd"/>
<rect x="552" y="406" width="22" height="11" fill="#f1f7fd"/>
<rect x="574" y="406" width="11" height="11" fill="#e4eff9"/>
<rect x="585" y="406" width="11" height="11" fill="#4a97c9"/>
<rect x="596" y="406" width="11" height="11" fill="#f5f9fe"/>
<rect x="607" y="406" width="12" height="11" fill="#1a69ae"/>
<rect x="619" y="406" width="11" height="11" fill="#08306b"/>
<rect x="630" y="406" width="11" height="11" fill="#135fa7"/>
<rect x="529" y="417" width="23" height="11" fill="#f5f9fe"/>
<rect x="552" y="417" width="11" height="11" fill="#f1f7fd"/>
<rect x="563" y="417" width="11" height="11" fill="#f3f8fd"/>
<rect x="574" y="417" width="11" height="11" fill="#e7f0f9"/>
<rect x="585" y="417" width="11" height="11" fill="#8bc0dd"/>
<rect x="596" y="417" width="11" height="11" fill="#f5f9fe"/>
<rect x="607" y="417" width="12" height="11" fill="#6aadd5"/>
<rect x="619" y="417" width="11" height="11" fill="#3b8bc2"/>
<rect x="630" y="417" width="11" height="11" fill="#5aa3cf"/>
<rect x="552" y="428" width="22" height="11" fill="#f3f8fd"/>
<rect x="574" y="428" width="11" height="11" fill="#f1f7fd"/>
<rect x="585" y="428" width="11" height="11" fill="#d5e5f4"/>
<rect x="596" y="428" width="11" height="11" fill="#f5f9fe"/>
<rect x="607" y="428" width="12" height="11" fill="#cfe1f2"/>
<rect x="619" y="428" width="11" height="11" fill="#c8dcef"/>
<rect x="630" y="428" width="11" height="11" fill="#cfe1f2"/>
<rect x="552" y="439" width="11" height="12" fill="#f5f9fe"/>
<rect x="563" y="439" width="11" height="12" fill="#f3f8fd"/>
<rect x="574" y="439" width="11" height="12" fill="#f5f9fe"/>
<rect x="585" y="439" width="11" height="12" fill="#e7f0f9"/>
<rect x="596" y="439" width="11" height="12" fill="#f5f9fe"/>
<rect x="607" y="439" width="12" height="12" fill="#e3eef8"/>
<rect x="619" y="439" width="11" height="12" fill="#dfebf7"/>
<rect x="630" y="439" width="11" height="12" fill="#e4eff9"/>
<rect x="563" y="451" width="11" height="11" fill="#f3f8fd"/>
<rect x="574" y="451" width="11" height="11" fill="#f5f9fe"/>
<rect x="585" y="451" width="11" height="11" fill="#f3f8fd"/>
<rect x="596" y="451" width="11" height="11" fill="#f1f7fd"/>
<rect x="607" y="451" width="12" height="11" fill="#edf4fb"/>
<rect x="619" y="451" width="11" height="11" fill="#e4eff9"/>
<rect x="630" y="451" width="11" height="11" fill="#f1f7fd"/>
<rect x="574" y="462" width="22" height="11" fill="#eff5fc"/>
<rect x="596" y="462" width="23" height="11" fill="#f3f8fd"/>
<rect x="619" y="462" width="11" height="11" fill="#edf4fb"/>
<rect x="630" y="462" width="11" height="11" fill="#f1f7fd"/>
<rect x="585" y="473" width="11" height="11" fill="#ebf3fb"/>
<rect x="596" y="473" width="11" height="11" fill="#f1f7fd"/>
<rect x="607" y="473" width="23" height="11" fill="#edf4fb"/>
<rect x="630" y="473" width="11" height="11" fill="#f1f7fd"/>
<rect x="596" y="484" width="11" height="11" fill="#cfe1f2"/>
<rect x="607" y="484" width="34" height="11" fill="#f5f9fe"/>
<rect x="607" y="495" width="12" height="11" fill="#c8dcef"/>
<rect x="619" y="495" width="11" height="11" fill="#b0d1e7"/>
<rect x="630" y="495" width="11" height="11" fill="#c3d9ee"/>
<rect x="619" y="506" width="22" height="12" fill="#f5f9fe"/>
<rect x="630" y="518" width="11" height="11" fill="#f5f9fe"/>
<rect x="680" y="60" width="17" height="1" fill="#08306b"/>
<rect x="680" y="61" width="17" height="1" fill="#08306b"/>
<rect x="680" y="62" width="17" height="1" fill="#08316c"/>
<rect x="680" y="63" width="17" height="1" fill="#08316c"/>
<rect x="680" y="64" width="17" height="1" fill="#08326e"/>
<rect x="680" y="65" width="17" height="1" fill="#08326e"/>
<rect x="680" y="66" width="17" height="1" fill="#08336f"/>
<rect x="680" y="67" width="17" height="1" fill="#08336f"/>
<rect x="680" y="68" width="17" height="1" fill="#083471"/>
<rect x="680" y="69" width="17" height="1" fill="#083471"/>
<rect x="680" y="70" width="17" height="1" fill="#083572"/>
<rect x="680" y="71" width="17" height="1" fill="#083572"/>
<rect x="680" y="72" width="17" height="1" fill="#083674"/>
<rect x="680" y="73" width="17" height="1" fill="#083674"/>
<rect x="680" y="74" width="17" height="1" fill="#083775"/>
<rect x="680" y="75" width="17" height="1" fill="#083775"/>
<rect x="680" y="76" width="17" height="1" fill="#083877"/>
<rect x="680" y="77" width="17" height="1" fill="#083978"/>
<rect x="680" y="78" width="17" height="1" fill="#083978"/>
<rect x="680" y="79" width="17" height="1" fill="#083a7a"/>
<rect x="680" y="80" width="17" height="1" fill="#083a7a"/>
<rect x="680" y="81" width="17" height="1" fill="#083b7b"/>
<rect x="680" y="82" width="17" height="1" fill="#083b7b"/>
<rect x="680" y="83" width="17" height="1" fill="#083c7d"/>
<rect x="680" y="84" width="17" height="1" fill="#083c7d"/>
<rect x="680" y="85" width="17" height="1" fill="#083d7e"/>
<rect x="680" y="86" width="17" height="1" fill="#083d7e"/>
<rect x="680" y="87" width="17" height="1" fill="#083e80"/>
<rect x="680" y="88" width="17" height="1" fill="#083e80"/>
<rect x="680" y="89" width="17" height="1" fill="#083f82"/>
<rect x="680" y="90" width="17" height="1" fill="#083f82"/>
<rect x="680" y="91" width="17" height="1" fill="#084083"/>
<rect x="680" y="92" width="17" height="1" fill="#084185"/>
<rect x="680" y="93" width="17" height="1" fill="#084185"/>
<rect x="680" y="94" width="17" height="1" fill="#084286"/>
<rect x="680" y="95" width="17" height="1" fill="#084286"/>
<rect x="680" y="96" width="17" height="1" fill="#084388"/>
<rect x="680" y="97" width="17" height="1" fill="#084388"/>
<rect x="680" y="98" width="17" height="1" fill="#084489"/>
<rect x="680" y="99" width="17" height="1" fill="#084489"/>
<rect x="680" y="100" width="17" height="1" fill="#08458b"/>
<rect x="680" y="101" width="17" height="1" fill="#08458b"/>
<rect x="680" y="102" width="17" height="1" fill="#08468c"/>
<rect x="680" y="103" width="17" height="1" fill="#08468c"/>
<rect x="680" y="104" width="17" height="1" fill="#08478e"/>
<rect x="680" y="105" width="17" height="1" fill="#08478e"/>
<rect x="680" y="106" width="17" height="1" fill="#08488f"/>
<rect x="680" y="107" width="17" height="1" fill="#084991"/>
<rect x="680" y="108" width="17" height="1" fill="#084991"/>
<rect x="680" y="109" width="17" height="1" fill="#084a92"/>
<rect x="680" y="110" width="17" height="1" fill="#084a92"/>
<rect x="680" y="111" width="17" height="1" fill="#084b94"/>
<rect x="680" y="112" width="17" height="1" fill="#084b94"/>
<rect x="680" y="113" width="17" height="1" fill="#084c96"/>
<rect x="680" y="114" width="17" height="1" fill="#084c96"/>
<rect x="680" y="115" width="17" height="1" fill="#084e97"/>
<rect x="680" y="116" width="17" height="1" fill="#084e97"/>
<rect x="680" y="117" width="17" height="1" fill="#084f99"/>
<rect x="680" y="118" width="17" height="1" fill="#084f99"/>
<rect x="680" y="119" width="17" height="1" fill="#08509a"/>
<rect x="680" y="120" width="17" height="1" fill="#08509a"/>
<rect x="680" y="121" width="17" height="1" fill="#08519c"/>
<rect x="680" y="122" width="17" height="1" fill="#08529c"/>
<rect x="680" y="123" width="17" height="1" fill="#08529c"/>
<rect x="680" y="124" width="17" height="1" fill="#09539d"/>
<rect x="680" y="125" width="17" height="1" fill="#09539d"/>
<rect x="680" y="126" width="17" height="1" fill="#0a549e"/>
<rect x="680" y="127" width="17" height="1" fill="#0a549e"/>
<rect x="680" y="128" width="17" height="1" fill="#0b559f"/>
<rect x="680" y="129" width="17" height="1" fill="#0b559f"/>
<rect x="680" y="130" width="17" height="1" fill="#0c56a0"/>
<rect x="680" y="131" width="17" height="1" fill="#0c56a0"/>
<rect x="680" y="132" width="17" height="1" fill="#0c57a0"/>
<rect x="680" y="133" width="17" height="1" fill="#0c57a0"/>
<rect x="680" y="134" width="17" height="1" fill="#0d58a1"/>
<rect x="680" y="135" width="17" height="1" fill="#0d58a1"/>
<rect x="680" y="136" width="17" height="1" fill="#0e59a2"/>
<rect x="680" y="137" width="17" height="1" fill="#0f5aa3"/>
<rect x="680" y="138" width="17" height="1" fill="#0f5aa3"/>
<rect x="680" y="139" width="17" height="1" fill="#0f5ba3"/>
<rect x="680" y="140" width="17" height="1" fill="#0f5ba3"/>
<rect x="680" y="141" width="17" height="1" fill="#105ca4"/>
<rect x="680" y="142" width="17" height="1" fill="#105ca4"/>
<rect x="680" y="143" width="17" height="1" fill="#115da5"/>
<rect x="680" y="144" width="17" height="1" fill="#115da5"/>
<rect x="680" y="145" width="17" height="1" fill="#125ea6"/>
<rect x="680" y="146" width="17" height="1" fill="#125ea6"/>
<rect x="680" y="147" width="17" height="1" fill="#135fa7"/>
<rect x="680" y="148" width="17" height="1" fill="#135fa7"/>
<rect x="680" y="149" width="17" height="1" fill="#1360a7"/>
<rect x="680" y="150" width="17" height="1" fill="#1360a7"/>
<rect x="680" y="151" width="17" height="1" fill="#1461a8"/>
<rect x="680" y="152" width="17" height="1" fill="#1562a9"/>
<rect x="680" y="153" width="17" height="1" fill="#1562a9"/>
<rect x="680" y="154" width="17" height="1" fill="#1663aa"/>
<rect x="680" y="155" width="17" height="1" fill="#1663aa"/>
<rect x="680" y="156" width="17" height="1" fill="#1764ab"/>
<rect x="680" y="157" width="17" height="1" fill="#1764ab"/>
<rect x="680" y="158" width="17" height="1" fill="#1765ab"/>
<rect x="680" y="159" width="17" height="1" fill="#1765ab"/>
<rect x="680" y="160" width="17" height="1" fill="#1866ac"/>
<rect x="680" y="161" width="17" height="1" fill="#1866ac"/>
<rect x="680" y="162" width="17" height="1" fill="#1967ad"/>
<rect x="680" y="163" width="17" height="1" fill="#1967ad"/>
<rect x="680" y="164" width="17" height="1" fill="#1a68ae"/>
<rect x="680" y="165" width="17" height="1" fill="#1a68ae"/>
<rect x="680" y="166" width="17" height="1" fill="#1a69ae"/>
<rect x="680" y="167" width="17" height="1" fill="#1b6aaf"/>
<rect x="680" y="168" width="17" height="1" fill="#1b6aaf"/>
<rect x="680" y="169" width="17" height="1" fill="#1c6bb0"/>
<rect x="680" y="170" width="17" height="1" fill="#1c6bb0"/>
<rect x="680" y="171" width="17" height="1" fill="#1d6cb1"/>
<rect x="680" y="172" width="17" height="1" fill="#1d6cb1"/>
<rect x="680" y="173" width="17" height="1" fill="#1e6db2"/>
<rect x="680" y="174" width="17" height="1" fill="#1e6db2"/>
<rect x="680" y="175" width="17" height="1" fill="#1e6eb2"/>
<rect x="680" y="176" width="17" height="1" fill="#1e6eb2"/>
<rect x="680" y="177" width="17" height="1" fill="#1f6fb3"/>
<rect x="680" y="178" width="17" height="1" fill="#1f6fb3"/>
<rect x="680" y="179" width="17" height="1" fill="#2070b4"/>
<rect x="680" y="180" width="17" height="1" fill="#2070b4"/>
<rect x="680" y="181" width="17" height="1" fill="#2171b5"/>
<rect x="680" y="182" width="17" height="1" fill="#2272b5"/>
<rect x="680" y="183" width="17" height="1" fill="#2272b5"/>
<rect x="680" y="184" width="17" height="1" fill="#2373b6"/>
<rect x="680" y="185" width="17" height="1" fill="#2373b6"/>
<rect x="680" y="186" width="17" height="1" fill="#2474b6"/>
<rect x="680" y="187" width="17" height="1" fill="#2474b6"/>
<rect x="680" y="188" width="17" height="1" fill="#2575b7"/>
<rect x="680" y="189" width="17" height="1" fill="#2575b7"/>
<rect x="680" y="190" width="17" height="1" fill="#2676b7"/>
<rect x="680" y="191" width="17" height="1" fill="#2676b7"/>
<rect x="680" y="192" width="17" height="1" fill="#2777b8"/>
<rect x="680" y="193" width="17" height="1" fill="#2777b8"/>
<rect x="680" y="194" width="17" height="1" fill="#2878b8"/>
<rect x="680" y="195" width="17" height="1" fill="#2878b8"/>
<rect x="680" y="196" width="17" height="1" fill="#2979b9"/>
<rect x="680" y="197" width="17" height="1" fill="#2a7ab9"/>
<rect x="680" y="198" width="17" height="1" fill="#2a7ab9"/>
<rect x="680" y="199" width="17" height="1" fill="#2b7bba"/>
<rect x="680" y="200" width="17" height="1" fill="#2b7bba"/>
<rect x="680" y="201" width="17" height="1" fill="#2c7cbb"/>
<rect x="680" y="202" width="17" height="1" fill="#2c7cbb"/>
<rect x="680" y="203" width="17" height="1" fill="#2d7dbb"/>
<rect x="680" y="204" width="17" height="1" fill="#2d7dbb"/>
<rect x="680" y="205" width="17" height="1" fill="#2e7ebc"/>
<rect x="680" y="206" width="17" height="1" fill="#2e7ebc"/>
<rect x="680" y="207" width="17" height="1" fill="#2f7fbc"/>
<rect x="680" y="208" width="17" height="1" fill="#2f7fbc"/>
<rect x="680" y="209" width="17" height="1" fill="#3080bd"/>
<rect x="680" y="210" width="17" height="1" fill="#3080bd"/>
<rect x="680" y="211" width="17" height="1" fill="#3181bd"/>
<rect x="680" y="212" width="17" height="1" fill="#3282be"/>
<rect x="680" y="213" width="17" height="1" fill="#3282be"/>
<rect x="680" y="214" width="17" height="1" fill="#3383be"/>
<rect x="680" y="215" width="17" height="1" fill="#3383be"/>
<rect x="680" y="216" width="17" height="1" fill="#3484bf"/>
<rect x="680" y="217" width="17" height="1" fill="#3484bf"/>
<rect x="680" y="218" width="17" height="1" fill="#3585bf"/>
<rect x="680" y="219" width="17" height="1" fill="#3585bf"/>
<rect x="680" y="220" width="17" height="1" fill="#3787c0"/>
<rect x="680" y="221" width="17" height="1" fill="#3787c0"/>
<rect x="680" y="222" width="17" height="1" fill="#3888c0"/>
<rect x="680" y="223" width="17" height="1" fill="#3888c0"/>
<rect x="680" y="224" width="17" height="1" fill="#3989c1"/>
<rect x="680" y="225" width="17" height="1" fill="#3989c1"/>
<rect x="680" y="226" width="17" height="1" fill="#3a8ac1"/>
<rect x="680" y="227" width="17" height="1" fill="#3b8bc2"/>
<rect x="680" y="228" width="17" height="1" fill="#3b8bc2"/>
<rect x="680" y="229" width="17" height="1" fill="#3c8cc3"/>
<rect x="680" y="230" width="17" height="1" fill="#3c8cc3"/>
<rect x="680" y="231" width="17" height="1" fill="#3d8dc3"/>
<rect x="680" y="232" width="17" height="1" fill="#3d8dc3"/>
<rect x="680" y="233" width="17" height="1" fill="#3e8ec4"/>
<rect x="680" y="234" width="17" height="1" fill="#3e8ec4"/>
<rect x="680" y="235" width="17" height="1" fill="#3f8fc4"/>
<rect x="680" y="236" width="17" height="1" fill="#3f8fc4"/>
<rect x="680" y="237" width="17" height="1" fill="#4090c5"/>
<rect x="680" y="238" width="17" height="1" fill="#4090c5"/>
<rect x="680" y="239" width="17" height="1" fill="#4191c5"/>
<rect x="680" y="240" width="17" height="1" fill="#4191c5"/>
<rect x="680" y="241" width="17" height="1" fill="#4292c6"/>
<rect x="680" y="242" width="17" height="1" fill="#4393c6"/>
<rect x="680" y="243" width="17" height="1" fill="#4393c6"/>
<rect x="680" y="244" width="17" height="1" fill="#4594c7"/>
<rect x="680" y="245" width="17" height="1" fill="#4594c7"/>
<rect x="680" y="246" width="17" height="1" fill="#4694c7"/>
<rect x="680" y="247" width="17" height="1" fill="#4694c7"/>
<rect x="680" y="248" width="17" height="1" fill="#4795c8"/>
<rect x="680" y="249" width="17" height="1" fill="#4795c8"/>
<rect x="680" y="250" width="17" height="1" fill="#4896c8"/>
<rect x="680" y="251" width="17" height="1" fill="#4896c8"/>
<rect x="680" y="252" width="17" height="1" fill="#4a97c9"/>
<rect x="680" y="253" width="17" height="1" fill="#4a97c9"/>
<rect x="680" y="254" width="17" height="1" fill="#4b98c9"/>
<rect x="680" y="255" width="17" height="1" fill="#4b98c9"/>
<rect x="680" y="256" width="17" height="1" fill="#4c99ca"/>
<rect x="680" y="257" width="17" height="1" fill="#4e9aca"/>
<rect x="680" y="258" width="17" height="1" fill="#4e9aca"/>
<rect x="680" y="259" width="17" height="1" fill="#4f9bcb"/>
<rect x="680" y="260" width="17" height="1" fill="#4f9bcb"/>
<rect x="680" y="261" width="17" height="1" fill="#509bcb"/>
<rect x="680" y="262" width="17" height="1" fill="#509bcb"/>
<rect x="680" y="263" width="17" height="1" fill="#519ccc"/>
<rect x="680" y="264" width="17" height="1" fill="#519ccc"/>
<rect x="680" y="265" width="17" height="1" fill="#539dcc"/>
<rect x="680" y="266" width="17" height="1" fill="#539dcc"/>
<rect x="680" y="267" width="17" height="1" fill="#549ecd"/>
<rect x="680" y="268" width="17" height="1" fill="#549ecd"/>
<rect x="680" y="269" width="17" height="1" fill="#559fcd"/>
<rect x="680" y="270" width="17" height="1" fill="#559fcd"/>
<rect x="680" y="271" width="17" height="1" fill="#57a0ce"/>
<rect x="680" y="272" width="17" height="1" fill="#58a1ce"/>
<rect x="680" y="273" width="17" height="1" fill="#58a1ce"/>
<rect x="680" y="274" width="17" height="1" fill="#59a2cf"/>
<rect x="680" y="275" width="17" height="1" fill="#59a2cf"/>
<rect x="680" y="276" width="17" height="1" fill="#5aa3cf"/>
<rect x="680" y="277" width="17" height="1" fill="#5aa3cf"/>
<rect x="680" y="278" width="17" height="1" fill="#5ca3d0"/>
<rect x="680" y="279" width="17" height="1" fill="#5ca3d0"/>
<rect x="680" y="280" width="17" height="1" fill="#5da4d0"/>
<rect x="680" y="281" width="17" height="1" fill="#5da4d0"/>
<rect x="680" y="282" width="17" height="1" fill="#5ea5d1"/>
<rect x="680" y="283" width="17" height="1" fill="#5ea5d1"/>
<rect x="680" y="284" width="17" height="1" fill="#60a6d1"/>
<rect x="680" y="285" width="17" height="1" fill="#60a6d1"/>
<rect x="680" y="286" width="17" height="1" fill="#61a7d2"/>
<rect x="680" y="287" width="17" height="1" fill="#62a8d2"/>
<rect x="680" y="288" width="17" height="1" fill="#62a8d2"/>
<rect x="680" y="289" width="17" height="1" fill="#63a9d3"/>
<rect x="680" y="290" width="17" height="1" fill="#63a9d3"/>
<rect x="680" y="291" width="17" height="1" fill="#65aad3"/>
<rect x="680" y="292" width="17" height="1" fill="#65aad3"/>
<rect x="680" y="293" width="17" height="1" fill="#66aad4"/>
<rect x="680" y="294" width="17" height="1" fill="#66aad4"/>
<rect x="680" y="295" width="17" height="1" fill="#67abd4"/>
<rect x="680" y="296" width="17" height="1" fill="#67abd4"/>
<rect x="680" y="297" width="17" height="1" fill="#69acd5"/>
<rect x="680" y="298" width="17" height="1" fill="#69acd5"/>
<rect x="680" y="299" width="17" height="1" fill="#6aadd5"/>
<rect x="680" y="300" width="17" height="1" fill="#6aadd5"/>
<rect x="680" y="301" width="17" height="1" fill="#6baed6"/>
<rect x="680" y="302" width="17" height="1" fill="#6dafd6"/>
<rect x="680" y="303" width="17" height="1" fill="#6dafd6"/>
<rect x="680" y="304" width="17" height="1" fill="#6fb0d6"/>
<rect x="680" y="305" width="17" height="1" fill="#6fb0d6"/>
<rect x="680" y="306" width="17" height="1" fill="#70b1d7"/>
<rect x="680" y="307" width="17" height="1" fill="#70b1d7"/>
<rect x="680" y="308" width="17" height="1" fill="#72b1d7"/>
<rect x="680" y="309" width="17" height="1" fill="#72b1d7"/>
<rect x="680" y="310" width="17" height="1" fill="#73b2d7"/>
<rect x="680" y="311" width="17" height="1" fill="#73b2d7"/>
<rect x="680" y="312" width="17" height="1" fill="#75b3d8"/>
<rect x="680" y="313" width="17" height="1" fill="#75b3d8"/>
<rect x="680" y="314" width="17" height="1" fill="#77b4d8"/>
<rect x="680" y="315" width="17" height="1" fill="#77b4d8"/>
<rect x="680" y="316" width="17" height="1" fill="#78b5d8"/>
<rect x="680" y="317" width="17" height="1" fill="#7ab6d9"/>
<rect x="680" y="318" width="17" height="1" fill="#7ab6d9"/>
<rect x="680" y="319" width="17" height="1" fill="#7bb7d9"/>
<rect x="680" y="320" width="17" height="1" fill="#7bb7d9"/>
<rect x="680" y="321" width="17" height="1" fill="#7db8d9"/>
<rect x="680" y="322" width="17" height="1" fill="#7db8d9"/>
<rect x="680" y="323" width="17" height="1" fill="#7fb8da"/>
<rect x="680" y="324" width="17" height="1" fill="#7fb8da"/>
<rect x="680" y="325" width="17" height="1" fill="#80b9da"/>
<rect x="680" y="326" width="17" height="1" fill="#80b9da"/>
<rect x="680" y="327" width="17" height="1" fill="#82badb"/>
<rect x="680" y="328" width="17" height="1" fill="#82badb"/>
<rect x="680" y="329" width="17" height="1" fill="#83bbdb"/>
<rect x="680" y="330" width="17" height="1" fill="#83bbdb"/>
<rect x="680" y="331" width="17" height="1" fill="#85bcdb"/>
<rect x="680" y="332" width="17" height="1" fill="#87bddc"/>
<rect x="680" y="333" width="17" height="1" fill="#87bddc"/>
<rect x="680" y="334" width="17" height="1" fill="#88bedc"/>
<rect x="680" y="335" width="17" height="1" fill="#88bedc"/>
<rect x="680" y="336" width="17" height="1" fill="#8abfdc"/>
<rect x="680" y="337" width="17" height="1" fill="#8abfdc"/>
<rect x="680" y="338" width="17" height="1" fill="#8bc0dd"/>
<rect x="680" y="339" width="17" height="1" fill="#8bc0dd"/>
<rect x="680" y="340" width="17" height="1" fill="#8dc0dd"/>
<rect x="680" y="341" width="17" height="1" fill="#8dc0dd"/>
<rect x="680" y="342" width="17" height="1" fill="#8fc1dd"/>
<rect x="680" y="343" width="17" height="1" fill="#8fc1dd"/>
<rect x="680" y="344" width="17" height="1" fill="#90c2de"/>
<rect x="680" y="345" width="17" height="1" fill="#90c2de"/>
<rect x="680" y="346" width="17" height="1" fill="#92c3de"/>
<rect x="680" y="347" width="17" height="1" fill="#93c4de"/>
<rect x="680" y="348" width="17" height="1" fill="#93c4de"/>
<rect x="680" y="349" width="17" height="1" fill="#95c5df"/>
<rect x="680" y="350" width="17" height="1" fill="#95c5df"/>
<rect x="680" y="351" width="17" height="1" fill="#97c6df"/>
<rect x="680" y="352" width="17" height="1" fill="#97c6df"/>
<rect x="680" y="353" width="17" height="1" fill="#98c7df"/>
<rect x="680" y="354" width="17" height="1" fill="#98c7df"/>
<rect x="680" y="355" width="17" height="1" fill="#9ac7e0"/>
<rect x="680" y="356" width="17" height="1" fill="#9ac7e0"/>
<rect x="680" y="357" width="17" height="1" fill="#9bc8e0"/>
<rect x="680" y="358" width="17" height="1" fill="#9bc8e0"/>
<rect x="680" y="359" width="17" height="1" fill="#9dc9e0"/>
<rect x="680" y="360" width="17" height="1" fill="#9dc9e0"/>
<rect x="680" y="361" width="17" height="1" fill="#9ecae1"/>
<rect x="680" y="362" width="17" height="1" fill="#a0cae1"/>
<rect x="680" y="363" width="17" height="1" fill="#a0cae1"/>
<rect x="680" y="364" width="17" height="1" fill="#a1cbe2"/>
<rect x="680" y="365" width="17" height="1" fill="#a1cbe2"/>
<rect x="680" y="366" width="17" height="1" fill="#a2cbe2"/>
<rect x="680" y="367" width="17" height="1" fill="#a2cbe2"/>
<rect x="680" y="368" width="17" height="1" fill="#a3cce3"/>
<rect x="680" y="369" width="17" height="1" fill="#a3cce3"/>
<rect x="680" y="370" width="17" height="1" fill="#a5cde3"/>
<rect x="680" y="371" width="17" height="1" fill="#a5cde3"/>
<rect x="680" y="372" width="17" height="1" fill="#a6cde3"/>
<rect x="680" y="373" width="17" height="1" fill="#a6cde3"/>
<rect x="680" y="374" width="17" height="1" fill="#a7cee4"/>
<rect x="680" y="375" width="17" height="1" fill="#a7cee4"/>
<rect x="680" y="376" width="17" height="1" fill="#a8cee4"/>
<rect x="680" y="377" width="17" height="1" fill="#aacfe5"/>
<rect x="680" y="378" width="17" height="1" fill="#aacfe5"/>
<rect x="680" y="379" width="17" height="1" fill="#abcfe5"/>
<rect x="680" y="380" width="17" height="1" fill="#abcfe5"/>
<rect x="680" y="381" width="17" height="1" fill="#acd0e6"/>
<rect x="680" y="382" width="17" height="1" fill="#acd0e6"/>
<rect x="680" y="383" width="17" height="1" fill="#add0e6"/>
<rect x="680" y="384" width="17" height="1" fill="#add0e6"/>
<rect x="680" y="385" width="17" height="1" fill="#afd1e6"/>
<rect x="680" y="386" width="17" height="1" fill="#afd1e6"/>
<rect x="680" y="387" width="17" height="1" fill="#b0d1e7"/>
<rect x="680" y="388" width="17" height="1" fill="#b0d1e7"/>
<rect x="680" y="389" width="17" height="1" fill="#b1d2e7"/>
<rect x="680" y="390" width="17" height="1" fill="#b1d2e7"/>
<rect x="680" y="391" width="17" height="1" fill="#b2d2e8"/>
<rect x="680" y="392" width="17" height="1" fill="#b4d3e8"/>
<rect x="680" y="393" width="17" height="1" fill="#b4d3e8"/>
<rect x="680" y="394" width="17" height="1" fill="#b5d3e9"/>
<rect x="680" y="395" width="17" height="1" fill="#b5d3e9"/>
<rect x="680" y="396" width="17" height="1" fill="#b6d4e9"/>
<rect x="680" y="397" width="17" height="1" fill="#b6d4e9"/>
<rect x="680" y="398" width="17" height="1" fill="#b7d4ea"/>
<rect x="680" y="399" width="17" height="1" fill="#b7d4ea"/>
<rect x="680" y="400" width="17" height="1" fill="#b9d5ea"/>
<rect x="680" y="401" width="17" height="1" fill="#b9d5ea"/>
<rect x="680" y="402" width="17" height="1" fill="#bad6ea"/>
<rect x="680" y="403" width="17" height="1" fill="#bad6ea"/>
<rect x="680" y="404" width="17" height="1" fill="#bbd6eb"/>
<rect x="680" y="405" width="17" height="1" fill="#bbd6eb"/>
<rect x="680" y="406" width="17" height="1" fill="#bcd7eb"/>
<rect x="680" y="407" width="17" height="1" fill="#bed7ec"/>
<rect x="680" y="408" width="17" height="1" fill="#bed7ec"/>
<rect x="680" y="409" width="17" height="1" fill="#bfd8ec"/>
<rect x="680" y="410" width="17" height="1" fill="#bfd8ec"/>
<rect x="680" y="411" width="17" height="1" fill="#c0d8ed"/>
<rect x="680" y="412" width="17" height="1" fill="#c0d8ed"/>
<rect x="680" y="413" width="17" height="1" fill="#c1d9ed"/>
<rect x="680" y="414" width="17" height="1" fill="#c1d9ed"/>
<rect x="680" y="415" width="17" height="1" fill="#c3d9ee"/>
<rect x="680" y="416" width="17" height="1" fill="#c3d9ee"/>
<rect x="680" y="417" width="17" height="1" fill="#c4daee"/>
<rect x="680" y="418" width="17" height="1" fill="#c4daee"/>
<rect x="680" y="419" width="17" height="1" fill="#c5daee"/>
<rect x="680" y="420" width="17" height="1" fill="#c5daee"/>
<rect x="680" y="421" width="17" height="1" fill="#c6dbef"/>
<rect x="680" y="422" width="17" height="1" fill="#c7dbef"/>
<rect x="680" y="423" width="17" height="1" fill="#c7dbef"/>
<rect x="680" y="424" width="17" height="1" fill="#c8dcef"/>
<rect x="680" y="425" width="17" height="1" fill="#c8dcef"/>
<rect x="680" y="426" width="17" height="1" fill="#c8dcef"/>
<rect x="680" y="427" width="17" height="1" fill="#c8dcef"/>
<rect x="680" y="428" width="17" height="1" fill="#c9ddf0"/>
<rect x="680" y="429" width="17" height="1" fill="#c9ddf0"/>
<rect x="680" y="430" width="17" height="1" fill="#caddf0"/>
<rect x="680" y="431" width="17" height="1" fill="#caddf0"/>
<rect x="680" y="432" width="17" height="1" fill="#cbdef0"/>
<rect x="680" y="433" width="17" height="1" fill="#cbdef0"/>
<rect x="680" y="434" width="17" height="1" fill="#cbdef0"/>
<rect x="680" y="435" width="17" height="1" fill="#cbdef0"/>
<rect x="680" y="436" width="17" height="1" fill="#ccdff1"/>
<rect x="680" y="437" width="17" height="1" fill="#cddff1"/>
<rect x="680" y="438" width="17" height="1" fill="#cddff1"/>
<rect x="680" y="439" width="17" height="1" fill="#cee0f1"/>
<rect x="680" y="440" width="17" height="1" fill="#cee0f1"/>
<rect x="680" y="441" width="17" height="1" fill="#cee0f1"/>
<rect x="680" y="442" width="17" height="1" fill="#cee0f1"/>
<rect x="680" y="443" width="17" height="1" fill="#cfe1f2"/>
<rect x="680" y="444" width="17" height="1" fill="#cfe1f2"/>
<rect x="680" y="445" width="17" height="1" fill="#d0e1f2"/>
<rect x="680" y="446" width="17" height="1" fill="#d0e1f2"/>
<rect x="680" y="447" width="17" height="1" fill="#d1e2f2"/>
<rect x="680" y="448" width="17" height="1" fill="#d1e2f2"/>
<rect x="680" y="449" width="17" height="1" fill="#d1e2f2"/>
<rect x="680" y="450" width="17" height="1" fill="#d1e2f2"/>
<rect x="680" y="451" width="17" height="1" fill="#d2e3f3"/>
<rect x="680" y="452" width="17" height="1" fill="#d3e3f3"/>
<rect x="680" y="453" width="17" height="1" fill="#d3e3f3"/>
<rect x="680" y="454" width="17" height="1" fill="#d4e4f3"/>
<rect x="680" y="455" width="17" height="1" fill="#d4e4f3"/>
<rect x="680" y="456" width="17" height="1" fill="#d4e4f3"/>
<rect x="680" y="457" width="17" height="1" fill="#d4e4f3"/>
<rect x="680" y="458" width="17" height="1" fill="#d5e5f4"/>
<rect x="680" y="459" width="17" height="1" fill="#d5e5f4"/>
<rect x="680" y="460" width="17" height="1" fill="#d6e5f4"/>
<rect x="680" y="461" width="17" height="1" fill="#d6e5f4"/>
<rect x="680" y="462" width="17" height="1" fill="#d7e6f4"/>
<rect x="680" y="463" width="17" height="1" fill="#d7e6f4"/>
<rect x="680" y="464" width="17" height="1" fill="#d7e6f4"/>
<rect x="680" y="465" width="17" height="1" fill="#d7e6f4"/>
<rect x="680" y="466" width="17" height="1" fill="#d8e7f5"/>
<rect x="680" y="467" width="17" height="1" fill="#d9e7f5"/>
<rect x="680" y="468" width="17" height="1" fill="#d9e7f5"/>
<rect x="680" y="469" width="17" height="1" fill="#dae8f5"/>
<rect x="680" y="470" width="17" height="1" fill="#dae8f5"/>
<rect x="680" y="471" width="17" height="1" fill="#dae8f5"/>
<rect x="680" y="472" width="17" height="1" fill="#dae8f5"/>
<rect x="680" y="473" width="17" height="1" fill="#dbe9f6"/>
<rect x="680" y="474" width="17" height="1" fill="#dbe9f6"/>
<rect x="680" y="475" width="17" height="1" fill="#dce9f6"/>
<rect x="680" y="476" width="17" height="1" fill="#dce9f6"/>
<rect x="680" y="477" width="17" height="1" fill="#ddeaf6"/>
<rect x="680" y="478" width="17" height="1" fill="#ddeaf6"/>
<rect x="680" y="479" width="17" height="1" fill="#ddeaf6"/>
<rect x="680" y="480" width="17" height="1" fill="#ddeaf6"/>
<rect x="680" y="481" width="17" height="1" fill="#deebf7"/>
<rect x="680" y="482" width="17" height="1" fill="#dfebf7"/>
<rect x="680" y="483" width="17" height="1" fill="#dfebf7"/>
<rect x="680" y="484" width="17" height="1" fill="#e0ecf7"/>
<rect x="680" y="485" width="17" height="1" fill="#e0ecf7"/>
<rect x="680" y="486" width="17" height="1" fill="#e1ecf7"/>
<rect x="680" y="487" width="17" height="1" fill="#e1ecf7"/>
<rect x="680" y="488" width="17" height="1" fill="#e1edf8"/>
<rect x="680" y="489" width="17" height="1" fill="#e1edf8"/>
<rect x="680" y="490" width="17" height="1" fill="#e2edf8"/>
<rect x="680" y="491" width="17" height="1" fill="#e2edf8"/>
<rect x="680" y="492" width="17" height="1" fill="#e3eef8"/>
<rect x="680" y="493" width="17" height="1" fill="#e3eef8"/>
<rect x="680" y="494" width="17" height="1" fill="#e4eef8"/>
<rect x="680" y="495" width="17" height="1" fill="#e4eef8"/>
<rect x="680" y="496" width="17" height="1" fill="#e4eff9"/>
<rect x="680" y="497" width="17" height="1" fill="#e5eff9"/>
<rect x="680" y="498" width="17" height="1" fill="#e5eff9"/>
<rect x="680" y="499" width="17" height="1" fill="#e6f0f9"/>
<rect x="680" y="500" width="17" height="1" fill="#e6f0f9"/>
<rect x="680" y="501" width="17" height="1" fill="#e7f0f9"/>
<rect x="680" y="502" width="17" height="1" fill="#e7f0f9"/>
<rect x="680" y="503" width="17" height="1" fill="#e8f1fa"/>
<rect x="680" y="504" width="17" height="1" fill="#e8f1fa"/>
<rect x="680" y="505" width="17" height="1" fill="#e8f1fa"/>
<rect x="680" y="506" width="17" height="1" fill="#e8f1fa"/>
<rect x="680" y="507" width="17" height="1" fill="#e9f2fa"/>
<rect x="680" y="508" width="17" height="1" fill="#e9f2fa"/>
<rect x="680" y="509" width="17" height="1" fill="#eaf2fa"/>
<rect x="680" y="510" width="17" height="1" fill="#eaf2fa"/>
<rect x="680" y="511" width="17" height="1" fill="#ebf3fb"/>
<rect x="680" y="512" width="17" height="1" fill="#ecf3fb"/>
<rect x="680" y="513" width="17" height="1" fill="#ecf3fb"/>
<rect x="680" y="514" width="17" height="1" fill="#ecf4fb"/>
<rect x="680" y="515" width="17" height="1" fill="#ecf4fb"/>
<rect x="680" y="516" width="17" height="1" fill="#edf4fb"/>
<rect x="680" y="517" width="17" height="1" fill="#edf4fb"/>
<rect x="680" y="518" width="17" height="1" fill="#eef5fc"/>
<rect x="680" y="519" width="17" height="1" fill="#eef5fc"/>
<rect x="680" y="520" width="17" height="1" fill="#eff5fc"/>
<rect x="680" y="521" width="17" height="1" fill="#eff5fc"/>
<rect x="680" y="522" width="17" height="1" fill="#eff6fc"/>
<rect x="680" y="523" width="17" height="1" fill="#eff6fc"/>
<rect x="680" y="524" width="17" height="1" fill="#f0f6fc"/>
<rect x="680" y="525" width="17" height="1" fill="#f0f6fc"/>
<rect x="680" y="526" width="17" height="1" fill="#f1f7fd"/>
<rect x="680" y="527" width="17" height="1" fill="#f2f7fd"/>
<rect x="680" y="528" width="17" height="1" fill="#f2f7fd"/>
<rect x="680" y="529" width="17" height="1" fill="#f3f8fd"/>
<rect x="680" y="530" width="17" height="1" fill="#f3f8fd"/>
<rect x="680" y="531" width="17" height="1" fill="#f3f8fd"/>
<rect x="680" y="532" width="17" height="1" fill="#f3f8fd"/>
<rect x="680" y="533" width="17" height="1" fill="#f4f9fe"/>
<rect x="680" y="534" width="17" height="1" fill="#f4f9fe"/>
<rect x="680" y="535" width="17" height="1" fill="#f5f9fe"/>
<rect x="680" y="536" width="17" height="1" fill="#f5f9fe"/>
<rect x="680" y="537" width="17" height="1" fill="#f6fafe"/>
<rect x="680" y="538" width="17" height="1" fill="#f6fafe"/>
<rect x="680" y="539" width="17" height="1" fill="#f7fbff"/>
<rect x="680" y="540" width="17" height="1" fill="#f7fbff"/>
</g>
<g fill="#000" fill-opacity="0.78" shape-rendering="crispEdges">
<rect x="166" y="61" width="1" height="5"/>
<rect x="166" y="535" width="1" height="5"/>
<rect x="161" y="66" width="5" height="1"/>
<rect x="635" y="66" width="5" height="1"/>
<rect x="177" y="61" width="1" height="5"/>
<rect x="177" y="535" width="1" height="5"/>
<rect x="161" y="77" width="5" height="1"/>
<rect x="635" y="77" width="5" height="1"/>
<rect x="188" y="61" width="1" height="5"/>
<rect x="188" y="535" width="1" height="5"/>
<rect x="161" y="88" width="5" height="1"/>
<rect x="635" y="88" width="5" height="1"/>
<rect x="199" y="61" width="1" height="5"/>
<rect x="199" y="535" width="1" height="5"/>
<rect x="161" y="99" width="5" height="1"/>
<rect x="635" y="99" width="5" height="1"/>
<rect x="210" y="61" width="1" height="5"/>
<rect x="210" y="535" width="1" height="5"/>
<rect x="161" y="110" width="5" height="1"/>
<rect x="635" y="110" width="5" height="1"/>
<rect x="221" y="61" width="1" height="5"/>
<rect x="221" y="535" width="1" height="5"/>
<rect x="161" y="121" width="5" height="1"/>
<rect x="635" y="121" width="5" height="1"/>
<rect x="233" y="61" width="1" height="5"/>
<rect x="233" y="535" width="1" height="5"/>
<rect x="161" y="133" width="5" height="1"/>
<rect x="635" y="133" width="5" height="1"/>
<rect x="244" y="61" width="1" height="5"/>
<rect x="244" y="535" width="1" height="5"/>
<rect x="161" y="144" width="5" height="1"/>
<rect x="635" y="144" width="5" height="1"/>
<rect x="255" y="61" width="1" height="5"/>
<rect x="255" y="535" width="1" height="5"/>
<rect x="161" y="155" width="5" height="1"/>
<rect x="635" y="155" width="5" height="1"/>
<rect x="266" y="61" width="1" height="5"/>
<rect x="266" y="535" width="1" height="5"/>
<rect x="161" y="166" width="5" height="1"/>
<rect x="635" y="166" width="5" height="1"/>
<rect x="277" y="61" width="1" height="5"/>
<rect x="277" y="535" width="1" height="5"/>
<rect x="161" y="177" width="5" height="1"/>
<rect x="635" y="177" width="5" height="1"/>
<rect x="288" y="61" width="1" height="5"/>
<rect x="288" y="535" width="1" height="5"/>
<rect x="161" y="188" width="5" height="1"/>
<rect x="635" y="188" width="5" height="1"/>
<rect x="300" y="61" width="1" height="5"/>
<rect x="300" y="535" width="1" height="5"/>
<rect x="161" y="200" width="5" height="1"/>
<rect x="635" y="200" width="5" height="1"/>
<rect x="311" y="61" width="1" height="5"/>
<rect x="311" y="535" width="1" height="5"/>
<rect x="161" y="211" width="5" height="1"/>
<rect x="635" y="211" width="5" height="1"/>
<rect x="322" y="61" width="1" height="5"/>
<rect x="322" y="535" width="1" height="5"/>
<rect x="161" y="222" width="5" height="1"/>
<rect x="635" y="222" width="5" height="1"/>
<rect x="333" y="61" width="1" height="5"/>
<rect x="333" y="535" width="1" height="5"/>
<rect x="161" y="233" width="5" height="1"/>
<rect x="635" y="233" width="5" height="1"/>
<rect x="344" y="61" width="1" height="5"/>
<rect x="344" y="535" width="1" height="5"/>
<rect x="161" y="244" width="5" height="1"/>
<rect x="635" y="244" width="5" height="1"/>
<rect x="355" y="61" width="1" height="5"/>
<rect x="355" y="535" width="1" height="5"/>
<rect x="161" y="255" width="5" height="1"/>
<rect x="635" y="255" width="5" height="1"/>
<rect x="367" y="61" width="1" height="5"/>
<rect x="367" y="535" width="1" height="5"/>
<rect x="161" y="267" width="5" height="1"/>
<rect x="635" y="267" width="5" height="1"/>
<rect x="378" y="61" width="1" height="5"/>
<rect x="378" y="535" width="1" height="5"/>
<rect x="161" y="278" width="5" height="1"/>
<rect x="635" y="278" width="5" height="1"/>
<rect x="389" y="61" width="1" height="5"/>
<rect x="389" y="535" width="1" height="5"/>
<rect x="161" y="289" width="5" height="1"/>
<rect x="635" y="289" width="5" height="1"/>
<rect x="400" y="61" width="1" height="5"/>
<rect x="400" y="535" width="1" height="5"/>
<rect x="161" y="300" width="5" height="1"/>
<rect x="635" y="300" width="5" height="1"/>
<rect x="411" y="61" width="1" height="5"/>
<rect x="411" y="535" width="1" height="5"/>
<rect x="161" y="311" width="5" height="1"/>
<rect x="635" y="311" width="5" height="1"/>
<rect x="422" y="61" width="1" height="5"/>
<rect x="422" y="535" width="1" height="5"/>
<rect x="161" y="322" width="5" height="1"/>
<rect x="635" y="322" width="5" height="1"/>
<rect x="433" y="61" width="1" height="5"/>
<rect x="433" y="535" width="1" height="5"/>
<rect x="161" y="333" width="5" height="1"/>
<rect x="635" y="333" width="5" height="1"/>
<rect x="445" y="61" width="1" height="5"/>
<rect x="445" y="535" width="1" height="5"/>
<rect x="161" y="345" width="5" height="1"/>
<rect x="635" y="345" width="5" height="1"/>
<rect x="456" y="61" width="1" height="5"/>
<rect x="456" y="535" width="1" height="5"/>
<rect x="161" y="356" width="5" height="1"/>
<rect x="635" y="356" width="5" height="1"/>
<rect x="467" y="61" width="1" height="5"/>
<rect x="467" y="535" width="1" height="5"/>
<rect x="161" y="367" width="5" height="1"/>
<rect x="635" y="367" width="5" height="1"/>
<rect x="478" y="61" width="1" height="5"/>
<rect x="478" y="535" width="1" height="5"/>
<rect x="161" y="378" width="5" height="1"/>
<rect x="635" y="378" width="5" height="1"/>
<rect x="489" y="61" width="1" height="5"/>
<rect x="489" y="535" width="1" height="5"/>
<rect x="161" y="389" width="5" height="1"/>
<rect x="635" y="389" width="5" height="1"/>
<rect x="500" y="61" width="1" height="5"/>
<rect x="500" y="535" width="1" height="5"/>
<rect x="161" y="400" width="5" height="1"/>
<rect x="635" y="400" width="5" height="1"/>
<rect x="512" y="61" width="1" height="5"/>
<rect x="512" y="535" width="1" height="5"/>
<rect x="161" y="412" width="5" height="1"/>
<rect x="635" y="412" width="5" height="1"/>
<rect x="523" y="61" width="1" height="5"/>
<rect x="523" y="535" width="1" height="5"/>
<rect x="161" y="423" width="5" height="1"/>
<rect x="635" y="423" width="5" height="1"/>
<rect x="534" y="61" width="1" height="5"/>
<rect x="534" y="535" width="1" height="5"/>
<rect x="161" y="434" width="5" height="1"/>
<rect x="635" y="434" width="5" height="1"/>
<rect x="545" y="61" width="1" height="5"/>
<rect x="545" y="535" width="1" height="5"/>
<rect x="161" y="445" width="5" height="1"/>
<rect x="635" y="445" width="5" height="1"/>
<rect x="556" y="61" width="1" height="5"/>
<rect x="556" y="535" width="1" height="5"/>
<rect x="161" y="456" width="5" height="1"/>
<rect x="635" y="456" width="5" height="1"/>
<rect x="567" y="61" width="1" height="5"/>
<rect x="567" y="535" width="1" height="5"/>
<rect x="161" y="467" width="5" height="1"/>
<rect x="635" y="467" width="5" height="1"/>
<rect x="579" y="61" width="1" height="5"/>
<rect x="579" y="535" width="1" height="5"/>
<rect x="161" y="479" width="5" height="1"/>
<rect x="635" y="479" width="5" height="1"/>
<rect x="590" y="61" width="1" height="5"/>
<rect x="590" y="535" width="1" height="5"/>
<rect x="161" y="490" width="5" height="1"/>
<rect x="635" y="490" width="5" height="1"/>
<rect x="601" y="61" width="1" height="5"/>
<rect x="601" y="535" width="1" height="5"/>
<rect x="161" y="501" width="5" height="1"/>
<rect x="635" y="501" width="5" height="1"/>
<rect x="612" y="61" width="1" height="5"/>
<rect x="612" y="535" width="1" height="5"/>
<rect x="161" y="512" width="5" height="1"/>
<rect x="635" y="512" width="5" height="1"/>
<rect x="623" y="61" width="1" height="5"/>
<rect x="623" y="535" width="1" height="5"/>
<rect x="161" y="523" width="5" height="1"/>
<rect x="635" y="523" width="5" height="1"/>
<rect x="634" y="61" width="1" height="5"/>
<rect x="634" y="535" width="1" height="5"/>
<rect x="161" y="534" width="5" height="1"/>
<rect x="635" y="534" width="5" height="1"/>
<rect x="691" y="477" width="5" height="1"/>
<rect x="691" y="415" width="5" height="1"/>
<rect x="691" y="352" width="5" height="1"/>
<rect x="691" y="289" width="5" height="1"/>
<rect x="691" y="226" width="5" height="1"/>
<rect x="691" y="164" width="5" height="1"/>
<rect x="691" y="101" width="5" height="1"/>
</g>
<g fill="#000" fill-opacity="0.4" shape-rendering="crispEdges">
<rect x="166" y="66" width="1" height="1"/>
<rect x="166" y="534" width="1" height="1"/>
<rect x="166" y="66" width="1" height="1"/>
<rect x="634" y="66" width="1" height="1"/>
<rect x="177" y="66" width="1" height="1"/>
<rect x="177" y="534" width="1" height="1"/>
<rect x="166" y="77" width="1" height="1"/>
<rect x="634" y="77" width="1" height="1"/>
<rect x="188" y="66" width="1" height="1"/>
<rect x="188" y="534" width="1" height="1"/>
<rect x="166" y="88" width="1" height="1"/>
<rect x="634" y="88" width="1" height="1"/>
<rect x="199" y="66" width="1" height="1"/>
<rect x="199" y="534" width="1" height="1"/>
<rect x="166" y="99" width="1" height="1"/>
<rect x="634" y="99" width="1" height="1"/>
<rect x="210" y="66" width="1" height="1"/>
<rect x="210" y="534" width="1" height="1"/>
<rect x="166" y="110" width="1" height="1"/>
<rect x="634" y="110" width="1" height="1"/>
<rect x="221" y="66" width="1" height="1"/>
<rect x="221" y="534" width="1" height="1"/>
<rect x="166" y="121" width="1" height="1"/>
<rect x="634" y="121" width="1" height="1"/>
<rect x="233" y="66" width="1" height="1"/>
<rect x="233" y="534" width="1" height="1"/>
<rect x="166" y="133" width="1" height="1"/>
<rect x="634" y="133" width="1" height="1"/>
<rect x="244" y="66" width="1" height="1"/>
<rect x="244" y="534" width="1" height="1"/>
<rect x="166" y="144" width="1" height="1"/>
<rect x="634" y="144" width="1" height="1"/>
<rect x="255" y="66" width="1" height="1"/>
<rect x="255" y="534" width="1" height="1"/>
<rect x="166" y="155" width="1" height="1"/>
<rect x="634" y="155" width="1" height="1"/>
<rect x="266" y="66" width="1" height="1"/>
<rect x="266" y="534" width="1" height="1"/>
<rect x="166" y="166" width="1" height="1"/>
<rect x="634" y="166" width="1" height="1"/>
<rect x="277" y="66" width="1" height="1"/>
<rect x="277" y="534" width="1" height="1"/>
<rect x="166" y="177" width="1" height="1"/>
<rect x="634" y="177" width="1" height="1"/>
<rect x="288" y="66" width="1" height="1"/>
<rect x="288" y="534" width="1" height="1"/>
<rect x="166" y="188" width="1" height="1"/>
<rect x="634" y="188" width="1" height="1"/>
<rect x="300" y="66" width="1" height="1"/>
<rect x="300" y="534" width="1" height="1"/>
<rect x="166" y="200" width="1" height="1"/>
<rect x="634" y="200" width="1" height="1"/>
<rect x="311" y="66" width="1" height="1"/>
<rect x="311" y="534" width="1" height="1"/>
<rect x="166" y="211" width="1" height="1"/>
<rect x="634" y="211" width="1" height="1"/>
<rect x="322" y="66" width="1" height="1"/>
<rect x="322" y="534" width="1" height="1"/>
<rect x="166" y="222" width="1" height="1"/>
<rect x="634" y="222" width="1" height="1"/>
<rect x="333" y="66" width="1" height="1"/>
<rect x="333" y="534" width="1" height="1"/>
<rect x="166" y="233" width="1" height="1"/>
<rect x="634" y="233" width="1" height="1"/>
<rect x="344" y="66" width="1" height="1"/>
<rect x="344" y="534" width="1" height="1"/>
<rect x="166" y="244" width="1" height="1"/>
<rect x="634" y="244" width="1" height="1"/>
<rect x="355" y="66" width="1" height="1"/>
<rect x="355" y="534" width="1" height="1"/>
<rect x="166" y="255" width="1" height="1"/>
<rect x="634" y="255" width="1" height="1"/>
<rect x="367" y="66" width="1" height="1"/>
<rect x="367" y="534" width="1" height="1"/>
<rect x="166" y="267" width="1" height="1"/>
<rect x="634" y="267" width="1" height="1"/>
<rect x="378" y="66" width="1" height="1"/>
<rect x="378" y="534" width="1" height="1"/>
<rect x="166" y="278" width="1" height="1"/>
<rect x="634" y="278" width="1" height="1"/>
<rect x="389" y="66" width="1" height="1"/>
<rect x="389" y="534" width="1" height="1"/>
<rect x="166" y="289" width="1" height="1"/>
<rect x="634" y="289" width="1" height="1"/>
<rect x="400" y="66" width="1" height="1"/>
<rect x="400" y="534" width="1" height="1"/>
<rect x="166" y="300" width="1" height="1"/>
<rect x="634" y="300" width="1" height="1"/>
<rect x="411" y="66" width="1" height="1"/>
<rect x="411" y="534" width="1" height="1"/>
<rect x="166" y="311" width="1" height="1"/>
<rect x="634" y="311" width="1" height="1"/>
<rect x="422" y="66" width="1" height="1"/>
<rect x="422" y="534" width="1" height="1"/>
<rect x="166" y="322" width="1" height="1"/>
<rect x="634" y="322" width="1" height="1"/>
<rect x="433" y="66" width="1" height="1"/>
<rect x="433" y="534" width="1" height="1"/>
<rect x="166" y="333" width="1" height="1"/>
<rect x="634" y="333" width="1" height="1"/>
<rect x="445" y="66" width="1" height="1"/>
<rect x="445" y="534" width="1" height="1"/>
<rect x="166" y="345" width="1" height="1"/>
<rect x="634" y="345" width="1" height="1"/>
<rect x="456" y="66" width="1" height="1"/>
<rect x="456" y="534" width="1" height="1"/>
<rect x="166" y="356" width="1" height="1"/>
<rect x="634" y="356" width="1" height="1"/>
<rect x="467" y="66" width="1" height="1"/>
<rect x="467" y="534" width="1" height="1"/>
<rect x="166" y="367" width="1" height="1"/>
<rect x="634" y="367" width="1" height="1"/>
<rect x="478" y="66" width="1" height="1"/>
<rect x="478" y="534" width="1" height="1"/>
<rect x="166" y="378" width="1" height="1"/>
<rect x="634" y="378" width="1" height="1"/>
<rect x="489" y="66" width="1" height="1"/>
<rect x="489" y="534" width="1" height="1"/>
<rect x="166" y="389" width="1" height="1"/>
<rect x="634" y="389" width="1" height="1"/>
<rect x="500" y="66" width="1" height="1"/>
<rect x="500" y="534" width="1" height="1"/>
<rect x="166" y="400" width="1" height="1"/>
<rect x="634" y="400" width="1" height="1"/>
<rect x="512" y="66" width="1" height="1"/>
<rect x="512" y="534" width="1" height="1"/>
<rect x="166" y="412" width="1" height="1"/>
<rect x="634" y="412" width="1" height="1"/>
<rect x="523" y="66" width="1" height="1"/>
<rect x="523" y="534" width="1" height="1"/>
<rect x="166" y="423" width="1" height="1"/>
<rect x="634" y="423" width="1" height="1"/>
<rect x="534" y="66" width="1" height="1"/>
<rect x="534" y="534" width="1" height="1"/>
<rect x="166" y="434" width="1" height="1"/>
<rect x="634" y="434" width="1" height="1"/>
<rect x="545" y="66" width="1" height="1"/>
<rect x="545" y="534" width="1" height="1"/>
<rect x="166" y="445" width="1" height="1"/>
<rect x="634" y="445" width="1" height="1"/>
<rect x="556" y="66" width="1" height="1"/>
<rect x="556" y="534" width="1" height="1"/>
<rect x="166" y="456" width="1" height="1"/>
<rect x="634" y="456" width="1" height="1"/>
<rect x="567" y="66" width="1" height="1"/>
<rect x="567" y="534" width="1" height="1"/>
<rect x="166" y="467" width="1" height="1"/>
<rect x="634" y="467" width="1" height="1"/>
<rect x="579" y="66" width="1" height="1"/>
<rect x="579" y="534" width="1" height="1"/>
<rect x="166" y="479" width="1" height="1"/>
<rect x="634" y="479" width="1" height="1"/>
<rect x="590" y="66" width="1" height="1"/>
<rect x="590" y="534" width="1" height="1"/>
<rect x="166" y="490" width="1" height="1"/>
<rect x="634" y="490" width="1" height="1"/>
<rect x="601" y="66" width="1" height="1"/>
<rect x="601" y="534" width="1" height="1"/>
<rect x="166" y="501" width="1" height="1"/>
<rect x="634" y="501" width="1" height="1"/>
<rect x="612" y="66" width="1" height="1"/>
<rect x="612" y="534" width="1" height="1"/>
<rect x="166" y="512" width="1" height="1"/>
<rect x="634" y="512" width="1" height="1"/>
<rect x="623" y="66" width="1" height="1"/>
<rect x="623" y="534" width="1" height="1"/>
<rect x="166" y="523" width="1" height="1"/>
<rect x="634" y="523" width="1" height="1"/>
<rect x="634" y="66" width="1" height="1"/>
<rect x="634" y="534" width="1" height="1"/>
<rect x="166" y="534" width="1" height="1"/>
<rect x="634" y="534" width="1" height="1"/>
<rect x="690" y="477" width="1" height="1"/>
<rect x="690" y="415" width="1" height="1"/>
<rect x="690" y="352" width="1" height="1"/>
<rect x="690" y="289" width="1" height="1"/>
<rect x="690" y="226" width="1" height="1"/>
<rect x="690" y="164" width="1" height="1"/>
<rect x="690" y="101" width="1" height="1"/>
</g>
<g fill="none" stroke="#000" stroke-width="1.39" stroke-linejoin="miter">
<rect x="160.5" y="60.5" width="480" height="480"/>
<rect x="680.5" y="60.5" width="16.0" height="480"/>
</g>
<g>
<text x="165.38" y="53.8" text-anchor="middle">C1'</text>
<text x="155.1" y="71.28" text-anchor="end">C1'</text>
<text x="221.20" y="53.8" text-anchor="middle">C4'</text>
<text x="155.1" y="127.10" text-anchor="end">C4'</text>
<text x="277.01" y="53.8" text-anchor="middle">N3</text>
<text x="155.1" y="182.91" text-anchor="end">N3</text>
<text x="332.82" y="53.8" text-anchor="middle">O4'</text>
<text x="155.1" y="238.72" text-anchor="end">O4'</text>
<text x="388.64" y="53.8" text-anchor="middle">C1'</text>
<text x="155.1" y="294.54" text-anchor="end">C1'</text>
<text x="444.45" y="53.8" text-anchor="middle">C4'</text>
<text x="155.1" y="350.35" text-anchor="end">C4'</text>
<text x="500.27" y="53.8" text-anchor="middle">N1</text>
<text x="155.1" y="406.17" text-anchor="end">N1</text>
<text x="556.08" y="53.8" text-anchor="middle">O2'</text>
<text x="155.1" y="461.98" text-anchor="end">O2'</text>
<text x="611.89" y="53.8" text-anchor="middle">OP1</text>
<text x="155.1" y="517.79" text-anchor="end">OP1</text>
<text x="701" y="546.00">0.0</text>
<text x="701" y="483.30">0.4</text>
<text x="701" y="420.59">0.8</text>
<text x="701" y="357.89">1.2</text>
<text x="701" y="295.18">1.6</text>
<text x="701" y="232.48">2.0</text>
<text x="701" y="169.78">2.4</text>
<text x="701" y="107.07">2.8</text>
</g>
</svg>
</body></html>
